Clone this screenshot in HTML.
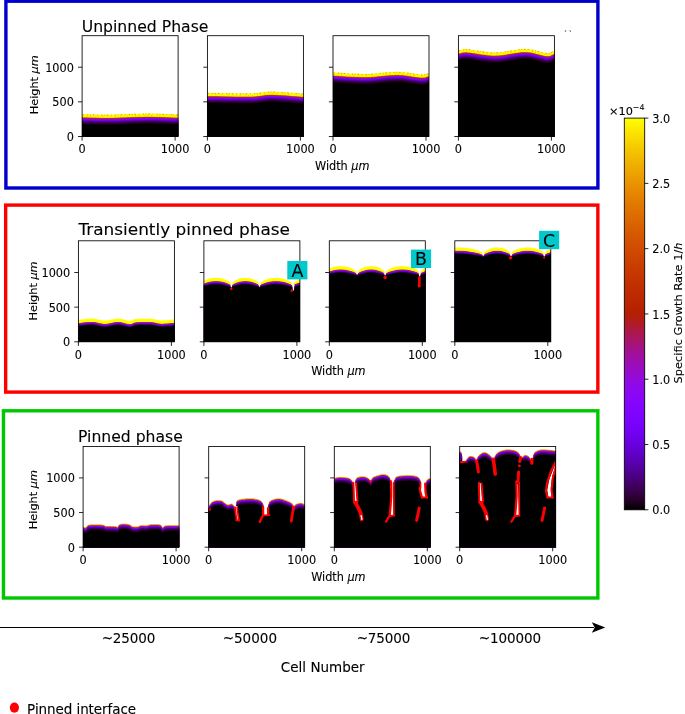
<!DOCTYPE html>
<html><head><meta charset="utf-8"><title>Growth phases</title>
<style>html,body{margin:0;padding:0;background:#fff}svg{display:block}text{stroke:#000;stroke-width:0.1px}</style></head>
<body>
<svg width="685" height="714" viewBox="0 0 685 714"><rect width="685" height="714" fill="#fff"/><defs><path id="f1" d="M76.1 114.4L76.4 114.4L76.7 114.4L76.9 114.4L77.3 114.4L78.0 114.4L78.9 114.4L80.3 114.5L82.1 114.5L84.5 114.6L87.4 114.6L90.6 114.7L94.2 114.8L98.0 114.9L102.0 115.0L106.1 115.0L110.1 115.0L114.2 114.9L118.6 114.8L123.2 114.6L127.8 114.4L132.5 114.2L137.2 114.1L141.7 114.0L146.1 113.9L150.5 113.9L155.0 114.0L159.5 114.1L164.0 114.3L168.2 114.4L172.0 114.6L175.4 114.7L178.1 114.8L180.1 114.9L181.6 114.9L182.5 114.9L183.1 114.9L183.4 114.9L183.6 114.9L183.8 114.9L184.1 114.9L184.1 140.5L76.1 140.5Z"/><clipPath id="a1"><rect x="82.10" y="35.70" width="96.00" height="100.80"/></clipPath><path id="f2" d="M201.4 93.2L201.6 93.2L201.6 93.2L201.5 93.2L201.7 93.2L202.1 93.2L203.1 93.2L204.8 93.2L207.4 93.2L211.2 93.3L216.3 93.3L222.2 93.5L228.5 93.6L235.0 93.7L241.2 93.7L246.8 93.7L251.4 93.7L255.0 93.6L257.8 93.3L260.1 93.0L262.1 92.7L264.1 92.4L266.1 92.1L268.5 92.0L271.4 91.9L275.0 92.0L279.2 92.2L283.7 92.5L288.3 92.8L292.8 93.2L296.9 93.5L300.6 93.8L303.4 94.0L305.4 94.1L306.9 94.2L307.8 94.2L308.4 94.2L308.7 94.2L308.9 94.2L309.1 94.2L309.4 94.2L309.4 140.5L201.4 140.5Z"/><clipPath id="a2"><rect x="207.40" y="35.70" width="96.00" height="100.80"/></clipPath><path id="f3" d="M327.0 72.5L327.3 72.5L327.4 72.5L327.6 72.5L327.9 72.5L328.5 72.5L329.5 72.5L330.9 72.6L333.0 72.7L335.8 72.9L339.4 73.1L343.5 73.4L347.9 73.7L352.6 73.9L357.3 74.1L361.8 74.3L366.0 74.3L370.0 74.2L374.1 73.9L378.1 73.5L382.1 73.1L386.0 72.7L389.8 72.4L393.5 72.2L397.0 72.1L400.4 72.2L403.9 72.5L407.2 72.9L410.4 73.4L413.5 73.9L416.3 74.3L418.8 74.6L421.0 74.8L422.8 74.8L424.2 74.7L425.3 74.6L426.1 74.3L426.8 74.1L427.5 73.8L428.2 73.6L429.0 73.4L429.9 73.3L430.8 73.1L431.7 73.0L432.5 72.9L433.3 72.7L434.0 72.7L434.6 72.6L435.0 72.5L435.0 140.5L327.0 140.5Z"/><clipPath id="a3"><rect x="333.00" y="35.70" width="96.00" height="100.80"/></clipPath><path id="f4" d="M452.4 51.8L452.8 51.7L453.4 51.6L454.1 51.5L454.8 51.4L455.7 51.2L456.5 51.1L457.5 50.9L458.4 50.8L459.3 50.6L460.0 50.4L460.7 50.2L461.5 49.9L462.5 49.7L463.7 49.6L465.3 49.5L467.4 49.6L470.0 49.8L473.0 50.2L476.4 50.8L480.1 51.4L483.9 51.9L487.8 52.4L491.7 52.7L495.4 52.8L499.1 52.6L503.0 52.2L506.9 51.6L510.8 50.9L514.7 50.3L518.5 49.7L522.1 49.3L525.4 49.2L528.5 49.4L531.6 49.8L534.5 50.5L537.3 51.2L539.9 51.9L542.3 52.5L544.5 53.0L546.4 53.3L548.0 53.3L549.4 53.2L550.4 52.9L551.3 52.5L552.1 52.1L552.8 51.7L553.6 51.3L554.4 51.0L555.3 50.8L556.2 50.5L557.1 50.3L557.9 50.1L558.7 49.9L559.4 49.8L560.0 49.6L560.4 49.5L560.4 140.5L452.4 140.5Z"/><clipPath id="a4"><rect x="458.40" y="35.70" width="96.00" height="100.80"/></clipPath><path id="f5" d="M72.4 320.3L72.8 320.3L73.3 320.2L73.9 320.2L74.5 320.2L75.3 320.1L76.2 320.1L77.2 320.0L78.4 319.9L79.8 319.8L81.4 319.6L83.2 319.4L85.1 319.2L87.1 319.0L89.0 318.9L90.9 318.8L92.6 318.8L94.2 318.9L95.8 319.2L97.3 319.5L98.8 319.9L100.3 320.2L101.8 320.5L103.3 320.7L104.9 320.8L106.5 320.7L108.2 320.5L109.8 320.2L111.5 319.8L113.2 319.4L114.8 319.1L116.4 318.9L118.0 318.8L119.6 318.9L121.1 319.1L122.7 319.5L124.3 319.9L125.7 320.3L127.1 320.6L128.4 320.9L129.6 321.0L130.6 321.0L131.4 320.8L132.1 320.6L132.7 320.3L133.2 320.0L133.9 319.7L134.6 319.5L135.4 319.3L136.4 319.2L137.4 319.1L138.6 319.0L139.8 319.0L141.0 318.9L142.1 318.9L143.3 318.9L144.4 318.9L145.4 318.9L146.5 318.9L147.4 318.9L148.4 318.9L149.4 318.9L150.4 318.9L151.4 319.0L152.4 319.1L153.4 319.2L154.4 319.4L155.5 319.7L156.5 319.9L157.6 320.2L158.7 320.4L159.9 320.5L161.2 320.6L162.7 320.6L164.3 320.5L166.1 320.4L167.9 320.3L169.6 320.1L171.3 320.0L172.9 319.8L174.2 319.7L175.3 319.6L176.4 319.5L177.3 319.5L178.1 319.4L178.8 319.3L179.4 319.3L180.0 319.2L180.4 319.2L180.4 345.8L72.4 345.8Z"/><clipPath id="a5"><rect x="78.40" y="240.80" width="96.00" height="101.00"/></clipPath><clipPath id="a6"><rect x="203.90" y="240.80" width="96.00" height="101.00"/></clipPath><clipPath id="a7"><rect x="329.30" y="240.80" width="96.00" height="101.00"/></clipPath><clipPath id="a8"><rect x="454.80" y="240.80" width="96.00" height="101.00"/></clipPath><path id="f9" d="M77.1 525.5L78.8 525.9L81.1 526.4L83.1 526.8L84.2 527.2L84.9 527.6L85.6 527.6L86.4 526.9L87.2 525.8L88.4 524.9L90.3 524.6L92.6 524.5L95.1 524.5L97.8 524.5L100.7 524.6L103.0 524.8L104.2 525.2L104.7 525.6L105.6 526.0L107.2 526.1L109.2 526.1L111.1 526.1L112.9 526.1L114.6 526.2L116.0 526.3L116.8 526.6L117.2 527.0L117.6 527.0L118.1 526.3L118.7 525.2L119.6 524.3L120.9 523.9L122.5 523.7L124.1 523.7L125.8 523.8L127.6 524.0L129.1 524.3L130.2 524.9L131.2 525.6L132.1 526.2L133.1 526.5L134.1 526.6L135.1 526.6L136.1 526.6L137.2 526.6L138.1 526.5L138.8 526.2L139.4 525.8L140.1 525.5L141.0 525.3L142.1 525.2L143.1 525.2L144.1 525.3L145.2 525.4L146.1 525.4L146.8 525.3L147.4 525.2L148.1 525.0L149.0 524.8L149.9 524.5L151.1 524.3L152.6 524.2L154.4 524.2L156.1 524.2L157.7 524.2L159.2 524.4L160.5 524.7L161.4 525.6L162.1 526.7L162.8 527.3L163.4 527.0L164.1 526.2L165.1 525.6L166.8 525.4L168.9 525.2L171.1 525.2L173.4 525.2L175.7 525.2L178.1 525.3L180.7 525.4L183.3 525.4L185.1 525.5L185.1 551.2L77.1 551.2Z"/><clipPath id="a9"><rect x="83.10" y="446.50" width="96.00" height="100.70"/></clipPath><path id="f10" d="M203.0 512.0L203.7 511.2L204.8 510.1L206.0 508.9L207.2 507.5L208.4 506.3L209.3 505.3L209.9 504.5L210.4 503.9L210.7 503.3L211.0 502.9L211.4 502.4L211.9 502.0L212.5 501.6L213.3 501.2L214.0 500.9L214.8 500.7L215.7 500.4L216.5 500.3L217.4 500.2L218.3 500.2L219.3 500.3L220.2 500.3L221.1 500.5L221.9 500.7L222.5 501.0L223.1 501.4L223.5 501.8L224.0 502.2L224.4 502.6L224.9 503.0L225.4 503.3L225.9 503.7L226.4 504.0L226.9 504.3L227.4 504.5L228.0 504.6L228.6 504.6L229.3 504.4L229.9 504.1L230.6 503.9L231.2 503.8L231.8 503.8L232.3 504.0L232.8 504.4L233.2 504.8L233.6 505.3L234.0 505.8L234.3 506.3L234.6 506.8L234.9 507.3L235.1 507.8L235.3 508.3L235.5 508.7L235.6 509.0L235.9 509.0L235.9 508.2L235.9 507.0L236.0 505.5L236.0 504.1L236.2 502.8L236.4 501.8L236.7 501.1L237.0 500.6L237.4 500.3L237.9 500.0L238.6 499.8L239.5 499.5L240.8 499.2L242.4 499.0L244.2 498.8L246.1 498.6L247.9 498.5L249.5 498.4L250.9 498.4L252.3 498.5L253.6 498.6L254.9 498.8L256.0 499.0L257.1 499.2L258.1 499.5L258.9 499.8L259.7 500.1L260.5 500.5L261.1 501.0L261.7 501.5L262.2 502.1L262.6 502.7L263.0 503.4L263.3 504.1L263.5 504.9L263.8 505.6L264.1 506.4L264.3 507.2L264.5 508.1L264.7 508.8L264.9 509.5L265.0 510.0L267.3 510.0L267.4 509.3L267.6 508.3L267.8 507.1L268.0 505.9L268.3 504.7L268.6 503.8L268.9 503.1L269.1 502.4L269.4 501.8L269.7 501.3L270.2 500.9L270.9 500.4L271.9 499.9L273.1 499.5L274.4 499.1L275.8 498.7L277.3 498.5L278.6 498.4L279.9 498.5L281.2 498.7L282.5 499.1L283.8 499.5L285.1 500.0L286.2 500.4L287.3 500.8L288.3 501.2L289.2 501.6L290.1 502.1L290.9 502.5L291.6 503.0L292.1 503.5L292.6 504.1L292.9 504.7L293.2 505.3L293.4 505.8L293.6 506.3L293.8 506.7L293.9 507.0L293.9 507.4L294.0 507.6L294.0 507.8L294.0 508.0L294.2 508.0L294.3 507.6L294.4 507.1L294.5 506.4L294.7 505.7L295.0 505.1L295.4 504.6L296.0 504.2L296.7 503.8L297.5 503.5L298.3 503.3L299.2 503.1L300.0 503.0L300.8 503.0L301.5 503.1L302.3 503.3L303.0 503.6L303.8 503.8L304.6 504.1L305.5 504.4L306.5 504.7L307.6 505.1L308.6 505.5L309.4 505.8L310.0 506.0L310.0 551.2L203.0 551.2Z"/><clipPath id="a10"><rect x="208.70" y="446.50" width="96.00" height="100.70"/></clipPath><path id="f11" d="M328.0 480.0L328.7 479.8L329.8 479.4L331.0 479.1L332.3 478.7L333.5 478.3L334.6 478.0L335.5 477.8L336.2 477.5L336.9 477.4L337.6 477.2L338.4 477.1L339.2 477.0L340.1 477.0L341.2 477.0L342.2 477.0L343.3 477.1L344.4 477.2L345.3 477.3L346.2 477.4L347.0 477.6L347.8 477.7L348.6 477.9L349.3 478.2L349.9 478.5L350.5 478.9L351.0 479.4L351.5 479.9L351.9 480.4L352.3 481.0L352.6 481.5L352.9 482.0L353.1 482.6L353.3 483.2L353.4 483.7L353.5 484.2L353.6 484.5L355.0 484.5L355.0 483.9L355.1 483.1L355.1 482.2L355.2 481.2L355.4 480.3L355.6 479.6L355.9 479.0L356.2 478.5L356.7 478.0L357.1 477.6L357.7 477.3L358.4 477.0L359.2 476.8L360.2 476.6L361.3 476.4L362.5 476.4L363.5 476.4L364.5 476.5L365.4 476.7L366.3 477.1L367.1 477.5L367.9 477.9L368.5 478.4L369.1 478.8L369.5 479.2L369.9 479.7L370.1 480.2L370.3 480.6L370.5 481.0L370.6 481.3L370.8 481.3L371.0 480.8L371.2 480.2L371.5 479.4L371.8 478.7L372.3 477.9L372.9 477.3L373.7 476.8L374.7 476.4L375.8 476.0L376.9 475.6L378.0 475.3L379.0 475.0L379.9 474.8L380.6 474.5L381.4 474.4L382.1 474.2L382.9 474.2L383.6 474.2L384.4 474.3L385.2 474.4L386.0 474.7L386.8 474.9L387.6 475.3L388.2 475.7L388.7 476.2L389.2 476.8L389.6 477.4L390.0 478.1L390.3 478.8L390.6 479.5L390.8 480.2L391.0 481.0L391.2 481.7L391.3 482.5L391.3 483.1L391.4 483.5L393.2 483.5L393.3 483.1L393.5 482.6L393.7 482.0L393.9 481.3L394.1 480.6L394.4 480.0L394.7 479.4L394.9 478.7L395.2 478.1L395.6 477.5L396.0 476.9L396.7 476.5L397.6 476.2L398.6 475.9L399.7 475.7L401.0 475.6L402.3 475.5L403.6 475.4L405.0 475.3L406.6 475.3L408.3 475.2L409.9 475.2L411.5 475.3L412.8 475.4L413.9 475.6L415.0 475.8L415.9 476.0L416.7 476.3L417.4 476.6L418.1 477.0L418.7 477.4L419.1 477.9L419.5 478.5L419.8 479.1L420.1 479.7L420.4 480.3L420.7 481.0L420.9 481.8L421.0 482.6L421.2 483.4L421.3 484.0L421.4 484.5L425.4 484.5L425.4 484.3L425.5 484.0L425.5 483.6L425.6 483.2L425.7 482.8L425.8 482.4L426.0 482.0L426.2 481.5L426.4 481.0L426.6 480.5L426.9 480.0L427.3 479.6L427.7 479.3L428.1 479.0L428.5 478.8L429.0 478.5L429.7 478.3L430.4 478.0L431.4 477.7L432.6 477.3L433.9 476.9L435.2 476.5L436.2 476.2L437.0 476.0L437.0 551.2L328.0 551.2Z"/><clipPath id="a11"><rect x="334.30" y="446.50" width="96.00" height="100.70"/></clipPath><path id="f12" d="M452.0 449.0L452.9 449.3L454.2 449.6L455.8 450.1L457.4 450.5L458.8 450.9L459.8 451.3L460.5 451.6L460.9 451.8L461.2 452.0L461.3 452.2L461.4 452.5L461.6 452.8L461.8 453.2L461.9 453.7L462.0 454.3L462.1 454.8L462.1 455.4L462.1 456.0L462.1 456.6L462.0 457.2L461.8 457.8L461.7 458.4L461.5 459.0L461.3 459.5L461.1 460.0L460.8 460.4L460.5 460.9L460.2 461.2L460.0 461.6L459.8 461.8L459.8 462.4L466.0 461.8L466.0 460.3L466.3 459.9L466.6 459.3L467.1 458.7L467.6 458.0L468.0 457.4L468.5 456.9L468.9 456.6L469.4 456.3L469.8 456.2L470.3 456.1L470.7 456.0L471.2 456.0L471.7 456.1L472.2 456.2L472.8 456.3L473.3 456.6L473.8 456.8L474.2 457.1L474.6 457.4L475.0 457.9L475.3 458.3L475.6 458.8L475.9 459.2L476.1 459.6L476.3 460.0L476.4 460.3L476.5 460.7L476.5 461.0L476.6 461.3L476.6 461.5L476.7 461.5L476.7 461.2L476.7 460.7L476.7 460.1L476.7 459.5L476.8 458.9L476.9 458.4L477.1 457.9L477.4 457.4L477.7 456.9L478.0 456.4L478.4 455.9L478.8 455.4L479.2 454.9L479.7 454.5L480.3 454.1L480.8 453.7L481.3 453.3L481.8 453.0L482.3 452.7L482.7 452.5L483.1 452.4L483.6 452.3L484.0 452.2L484.5 452.2L485.0 452.3L485.6 452.4L486.2 452.6L486.8 452.9L487.3 453.2L487.9 453.5L488.4 453.9L489.0 454.3L489.5 454.7L490.0 455.2L490.5 455.7L490.9 456.1L491.3 456.5L491.6 457.0L491.9 457.4L492.2 457.8L492.4 458.2L492.6 458.6L492.7 459.0L492.8 459.3L492.9 459.7L492.9 460.0L493.0 460.3L493.0 460.5L493.2 460.5L493.3 460.2L493.4 459.9L493.5 459.5L493.6 459.0L493.8 458.5L494.0 458.0L494.3 457.4L494.6 456.7L494.9 456.0L495.3 455.2L495.7 454.5L496.2 453.9L496.7 453.4L497.3 452.8L497.9 452.4L498.6 451.9L499.3 451.6L500.0 451.2L500.7 450.9L501.5 450.6L502.3 450.4L503.1 450.2L503.9 450.0L504.6 449.9L505.2 449.8L505.7 449.7L506.2 449.6L506.7 449.5L507.3 449.5L508.0 449.5L508.8 449.5L509.8 449.6L510.8 449.7L511.8 449.8L512.7 449.9L513.6 450.1L514.4 450.3L515.1 450.5L515.7 450.7L516.3 451.0L516.9 451.3L517.4 451.6L517.9 452.0L518.3 452.4L518.7 452.9L519.1 453.4L519.4 453.8L519.7 454.3L520.0 454.8L520.2 455.2L520.4 455.7L520.5 456.1L520.7 456.5L520.8 456.9L520.9 457.2L520.9 457.6L521.0 457.9L521.0 458.1L521.0 458.3L521.0 458.5L521.2 458.5L521.3 458.5L521.3 458.4L521.5 458.4L521.6 458.3L521.7 458.2L521.9 458.0L522.1 457.7L522.3 457.3L522.6 456.9L522.9 456.5L523.2 456.1L523.5 455.8L523.8 455.6L524.2 455.4L524.5 455.2L524.9 455.1L525.3 455.0L525.7 455.0L526.1 455.1L526.6 455.2L527.1 455.4L527.5 455.6L528.0 455.8L528.4 456.1L528.8 456.4L529.1 456.8L529.5 457.2L529.8 457.6L530.1 458.0L530.3 458.4L530.5 458.8L530.7 459.2L530.9 459.6L531.0 460.0L531.1 460.3L531.2 460.5L531.6 460.5L531.7 460.3L531.8 459.9L532.0 459.6L532.2 459.1L532.4 458.6L532.6 458.0L532.8 457.3L533.0 456.4L533.2 455.5L533.5 454.6L533.8 453.8L534.1 453.1L534.5 452.6L534.9 452.1L535.4 451.7L535.9 451.4L536.5 451.1L537.1 450.8L537.7 450.5L538.4 450.2L539.2 450.0L539.9 449.8L540.8 449.6L541.7 449.5L542.7 449.5L543.8 449.5L545.0 449.5L546.2 449.6L547.4 449.7L548.5 449.8L549.6 449.9L550.7 450.0L551.8 450.1L552.8 450.2L553.7 450.3L554.6 450.4L555.3 450.5L555.9 450.5L556.4 450.6L556.9 450.7L557.4 450.7L558.0 450.8L558.7 450.9L559.4 451.0L560.2 451.2L560.9 451.3L561.6 451.4L562.0 451.5L562.0 551.2L452.0 551.2Z"/><clipPath id="a12"><rect x="459.70" y="446.50" width="96.00" height="100.70"/></clipPath><linearGradient id="cb" x1="0" y1="0" x2="0" y2="1"><stop offset="0.000" stop-color="#ffff00"/><stop offset="0.025" stop-color="#fcec00"/><stop offset="0.050" stop-color="#f9db00"/><stop offset="0.075" stop-color="#f5ca00"/><stop offset="0.100" stop-color="#f2ba00"/><stop offset="0.125" stop-color="#efab00"/><stop offset="0.150" stop-color="#eb9d00"/><stop offset="0.175" stop-color="#e88f00"/><stop offset="0.200" stop-color="#e48300"/><stop offset="0.225" stop-color="#e07700"/><stop offset="0.250" stop-color="#dd6c00"/><stop offset="0.275" stop-color="#d96100"/><stop offset="0.300" stop-color="#d55700"/><stop offset="0.325" stop-color="#d24e00"/><stop offset="0.350" stop-color="#ce4600"/><stop offset="0.375" stop-color="#ca3e00"/><stop offset="0.400" stop-color="#c63700"/><stop offset="0.425" stop-color="#c13000"/><stop offset="0.450" stop-color="#bd2a00"/><stop offset="0.475" stop-color="#b92500"/><stop offset="0.500" stop-color="#b42000"/><stop offset="0.525" stop-color="#b01b28"/><stop offset="0.550" stop-color="#ab174f"/><stop offset="0.575" stop-color="#a61474"/><stop offset="0.600" stop-color="#a11096"/><stop offset="0.625" stop-color="#9c0db4"/><stop offset="0.650" stop-color="#970bce"/><stop offset="0.675" stop-color="#9109e3"/><stop offset="0.700" stop-color="#8c07f3"/><stop offset="0.725" stop-color="#8605fc"/><stop offset="0.750" stop-color="#8004ff"/><stop offset="0.775" stop-color="#7903fc"/><stop offset="0.800" stop-color="#7202f3"/><stop offset="0.825" stop-color="#6b01e3"/><stop offset="0.850" stop-color="#6301ce"/><stop offset="0.875" stop-color="#5a00b4"/><stop offset="0.900" stop-color="#510096"/><stop offset="0.925" stop-color="#460074"/><stop offset="0.950" stop-color="#39004f"/><stop offset="0.975" stop-color="#280028"/><stop offset="1.000" stop-color="#000000"/></linearGradient></defs>
<rect x="5.9" y="1.2" width="592" height="186.8" fill="none" stroke="#0000cd" stroke-width="3.4"/>
<rect x="5.65" y="205.1" width="592.2" height="187" fill="none" stroke="#ff0000" stroke-width="3.4"/>
<rect x="3.45" y="410.8" width="594.4" height="187.2" fill="none" stroke="#00c800" stroke-width="3.4"/>
<g clip-path="url(#a1)">
<use href="#f1" transform="translate(0,-0.3)" fill="#ffff00"/>
<use href="#f1" transform="translate(0,2.7)" fill="#eb9d00"/>
<use href="#f1" transform="translate(0,3.0)" fill="#d55700"/>
<use href="#f1" transform="translate(0,3.3)" fill="#bd2a00"/>
<use href="#f1" transform="translate(0,3.7)" fill="#a5137b"/>
<use href="#f1" transform="translate(0,4.1)" fill="#8c07f3"/>
<use href="#f1" transform="translate(0,4.6)" fill="#8004ff"/>
<use href="#f1" transform="translate(0,5.1)" fill="#7202f3"/>
<use href="#f1" transform="translate(0,5.6)" fill="#6601d7"/>
<use href="#f1" transform="translate(0,6.1)" fill="#5800af"/>
<use href="#f1" transform="translate(0,6.7)" fill="#4c0089"/>
<use href="#f1" transform="translate(0,7.3)" fill="#3e005e"/>
<use href="#f1" transform="translate(0,7.9)" fill="#33003f"/>
<use href="#f1" transform="translate(0,8.6)" fill="#280028"/>
<use href="#f1" transform="translate(0,9.3)" fill="#1a0010"/>
<use href="#f1" transform="translate(0,9.9)" fill="#000000"/>
<use href="#f1" transform="translate(0,0.1)" fill="none" stroke="#dc5a14" stroke-width="0.9" stroke-dasharray="0.9 1.9 1.5 2.7 0.8 3.3 1.2 1.6" stroke-opacity="0.75"/>
<use href="#f1" transform="translate(0,1.6)" fill="none" stroke="#e8780a" stroke-width="0.8" stroke-dasharray="0.8 3.1 1.1 4.3 0.7 2.2" stroke-dashoffset="2" stroke-opacity="0.6"/>
</g>
<rect x="82.10" y="35.70" width="96.00" height="100.80" fill="none" stroke="#000" stroke-width="0.85"/>
<line x1="78.00" x2="82.10" y1="136.50" y2="136.50" stroke="#000" stroke-width="0.85"/>
<text transform="translate(73.90,141.05) scale(1,1.08)" font-size="11.3" text-anchor="end" font-family="DejaVu Sans, Liberation Sans, sans-serif">0</text>
<line x1="78.00" x2="82.10" y1="101.85" y2="101.85" stroke="#000" stroke-width="0.85"/>
<text transform="translate(73.90,106.40) scale(1,1.08)" font-size="11.3" text-anchor="end" font-family="DejaVu Sans, Liberation Sans, sans-serif">500</text>
<line x1="78.00" x2="82.10" y1="67.20" y2="67.20" stroke="#000" stroke-width="0.85"/>
<text transform="translate(73.90,71.75) scale(1,1.08)" font-size="11.3" text-anchor="end" font-family="DejaVu Sans, Liberation Sans, sans-serif">1000</text>
<line x1="82.10" x2="82.10" y1="136.50" y2="140.60" stroke="#000" stroke-width="0.85"/>
<text transform="translate(82.10,153.40) scale(1,1.08)" font-size="11.3" text-anchor="middle" font-family="DejaVu Sans, Liberation Sans, sans-serif">0</text>
<line x1="175.10" x2="175.10" y1="136.50" y2="140.60" stroke="#000" stroke-width="0.85"/>
<text transform="translate(175.10,153.40) scale(1,1.08)" font-size="11.3" text-anchor="middle" font-family="DejaVu Sans, Liberation Sans, sans-serif">1000</text>
<g clip-path="url(#a2)">
<use href="#f2" transform="translate(0,-0.3)" fill="#ffff00"/>
<use href="#f2" transform="translate(0,2.7)" fill="#eb9d00"/>
<use href="#f2" transform="translate(0,3.0)" fill="#d55700"/>
<use href="#f2" transform="translate(0,3.3)" fill="#bd2a00"/>
<use href="#f2" transform="translate(0,3.7)" fill="#a5137b"/>
<use href="#f2" transform="translate(0,4.1)" fill="#8c07f3"/>
<use href="#f2" transform="translate(0,4.6)" fill="#8004ff"/>
<use href="#f2" transform="translate(0,5.1)" fill="#7202f3"/>
<use href="#f2" transform="translate(0,5.6)" fill="#6601d7"/>
<use href="#f2" transform="translate(0,6.1)" fill="#5800af"/>
<use href="#f2" transform="translate(0,6.7)" fill="#4c0089"/>
<use href="#f2" transform="translate(0,7.3)" fill="#3e005e"/>
<use href="#f2" transform="translate(0,7.9)" fill="#33003f"/>
<use href="#f2" transform="translate(0,8.6)" fill="#280028"/>
<use href="#f2" transform="translate(0,9.3)" fill="#1a0010"/>
<use href="#f2" transform="translate(0,9.9)" fill="#000000"/>
<use href="#f2" transform="translate(0,0.1)" fill="none" stroke="#dc5a14" stroke-width="0.9" stroke-dasharray="0.9 1.9 1.5 2.7 0.8 3.3 1.2 1.6" stroke-opacity="0.75"/>
<use href="#f2" transform="translate(0,1.6)" fill="none" stroke="#e8780a" stroke-width="0.8" stroke-dasharray="0.8 3.1 1.1 4.3 0.7 2.2" stroke-dashoffset="2" stroke-opacity="0.6"/>
</g>
<rect x="207.40" y="35.70" width="96.00" height="100.80" fill="none" stroke="#000" stroke-width="0.85"/>
<line x1="203.30" x2="207.40" y1="136.50" y2="136.50" stroke="#000" stroke-width="0.85"/>
<line x1="203.30" x2="207.40" y1="101.85" y2="101.85" stroke="#000" stroke-width="0.85"/>
<line x1="203.30" x2="207.40" y1="67.20" y2="67.20" stroke="#000" stroke-width="0.85"/>
<line x1="207.40" x2="207.40" y1="136.50" y2="140.60" stroke="#000" stroke-width="0.85"/>
<text transform="translate(207.40,153.40) scale(1,1.08)" font-size="11.3" text-anchor="middle" font-family="DejaVu Sans, Liberation Sans, sans-serif">0</text>
<line x1="300.40" x2="300.40" y1="136.50" y2="140.60" stroke="#000" stroke-width="0.85"/>
<text transform="translate(300.40,153.40) scale(1,1.08)" font-size="11.3" text-anchor="middle" font-family="DejaVu Sans, Liberation Sans, sans-serif">1000</text>
<g clip-path="url(#a3)">
<use href="#f3" transform="translate(0,-0.3)" fill="#ffff00"/>
<use href="#f3" transform="translate(0,2.7)" fill="#eb9d00"/>
<use href="#f3" transform="translate(0,3.0)" fill="#d55700"/>
<use href="#f3" transform="translate(0,3.3)" fill="#bd2a00"/>
<use href="#f3" transform="translate(0,3.7)" fill="#a5137b"/>
<use href="#f3" transform="translate(0,4.1)" fill="#8c07f3"/>
<use href="#f3" transform="translate(0,4.6)" fill="#8004ff"/>
<use href="#f3" transform="translate(0,5.1)" fill="#7202f3"/>
<use href="#f3" transform="translate(0,5.6)" fill="#6601d7"/>
<use href="#f3" transform="translate(0,6.1)" fill="#5800af"/>
<use href="#f3" transform="translate(0,6.7)" fill="#4c0089"/>
<use href="#f3" transform="translate(0,7.3)" fill="#3e005e"/>
<use href="#f3" transform="translate(0,7.9)" fill="#33003f"/>
<use href="#f3" transform="translate(0,8.6)" fill="#280028"/>
<use href="#f3" transform="translate(0,9.3)" fill="#1a0010"/>
<use href="#f3" transform="translate(0,9.9)" fill="#000000"/>
<use href="#f3" transform="translate(0,0.1)" fill="none" stroke="#dc5a14" stroke-width="0.9" stroke-dasharray="0.9 1.9 1.5 2.7 0.8 3.3 1.2 1.6" stroke-opacity="0.75"/>
<use href="#f3" transform="translate(0,1.6)" fill="none" stroke="#e8780a" stroke-width="0.8" stroke-dasharray="0.8 3.1 1.1 4.3 0.7 2.2" stroke-dashoffset="2" stroke-opacity="0.6"/>
</g>
<rect x="333.00" y="35.70" width="96.00" height="100.80" fill="none" stroke="#000" stroke-width="0.85"/>
<line x1="328.90" x2="333.00" y1="136.50" y2="136.50" stroke="#000" stroke-width="0.85"/>
<line x1="328.90" x2="333.00" y1="101.85" y2="101.85" stroke="#000" stroke-width="0.85"/>
<line x1="328.90" x2="333.00" y1="67.20" y2="67.20" stroke="#000" stroke-width="0.85"/>
<line x1="333.00" x2="333.00" y1="136.50" y2="140.60" stroke="#000" stroke-width="0.85"/>
<text transform="translate(333.00,153.40) scale(1,1.08)" font-size="11.3" text-anchor="middle" font-family="DejaVu Sans, Liberation Sans, sans-serif">0</text>
<line x1="426.00" x2="426.00" y1="136.50" y2="140.60" stroke="#000" stroke-width="0.85"/>
<text transform="translate(426.00,153.40) scale(1,1.08)" font-size="11.3" text-anchor="middle" font-family="DejaVu Sans, Liberation Sans, sans-serif">1000</text>
<g clip-path="url(#a4)">
<use href="#f4" transform="translate(0,-0.3)" fill="#ffff00"/>
<use href="#f4" transform="translate(0,2.7)" fill="#eb9d00"/>
<use href="#f4" transform="translate(0,3.0)" fill="#d55700"/>
<use href="#f4" transform="translate(0,3.3)" fill="#bd2a00"/>
<use href="#f4" transform="translate(0,3.7)" fill="#a5137b"/>
<use href="#f4" transform="translate(0,4.1)" fill="#8c07f3"/>
<use href="#f4" transform="translate(0,4.6)" fill="#8004ff"/>
<use href="#f4" transform="translate(0,5.1)" fill="#7202f3"/>
<use href="#f4" transform="translate(0,5.6)" fill="#6601d7"/>
<use href="#f4" transform="translate(0,6.1)" fill="#5800af"/>
<use href="#f4" transform="translate(0,6.7)" fill="#4c0089"/>
<use href="#f4" transform="translate(0,7.3)" fill="#3e005e"/>
<use href="#f4" transform="translate(0,7.9)" fill="#33003f"/>
<use href="#f4" transform="translate(0,8.6)" fill="#280028"/>
<use href="#f4" transform="translate(0,9.3)" fill="#1a0010"/>
<use href="#f4" transform="translate(0,9.9)" fill="#000000"/>
<use href="#f4" transform="translate(0,0.1)" fill="none" stroke="#dc5a14" stroke-width="0.9" stroke-dasharray="0.9 1.9 1.5 2.7 0.8 3.3 1.2 1.6" stroke-opacity="0.75"/>
<use href="#f4" transform="translate(0,1.6)" fill="none" stroke="#e8780a" stroke-width="0.8" stroke-dasharray="0.8 3.1 1.1 4.3 0.7 2.2" stroke-dashoffset="2" stroke-opacity="0.6"/>
</g>
<rect x="458.40" y="35.70" width="96.00" height="100.80" fill="none" stroke="#000" stroke-width="0.85"/>
<line x1="454.30" x2="458.40" y1="136.50" y2="136.50" stroke="#000" stroke-width="0.85"/>
<line x1="454.30" x2="458.40" y1="101.85" y2="101.85" stroke="#000" stroke-width="0.85"/>
<line x1="454.30" x2="458.40" y1="67.20" y2="67.20" stroke="#000" stroke-width="0.85"/>
<line x1="458.40" x2="458.40" y1="136.50" y2="140.60" stroke="#000" stroke-width="0.85"/>
<text transform="translate(458.40,153.40) scale(1,1.08)" font-size="11.3" text-anchor="middle" font-family="DejaVu Sans, Liberation Sans, sans-serif">0</text>
<line x1="551.40" x2="551.40" y1="136.50" y2="140.60" stroke="#000" stroke-width="0.85"/>
<text transform="translate(551.40,153.40) scale(1,1.08)" font-size="11.3" text-anchor="middle" font-family="DejaVu Sans, Liberation Sans, sans-serif">1000</text>
<g clip-path="url(#a5)">
<use href="#f5" transform="translate(0,-0.2)" fill="#ffff00"/>
<use href="#f5" transform="translate(0,3.1)" fill="#d55700"/>
<use href="#f5" transform="translate(0,3.4)" fill="#ab174f"/>
<use href="#f5" transform="translate(0,3.7)" fill="#8c07f3"/>
<use href="#f5" transform="translate(0,4.3)" fill="#7803fa"/>
<use href="#f5" transform="translate(0,4.8)" fill="#5f01c4"/>
<use href="#f5" transform="translate(0,5.3)" fill="#48007b"/>
<use href="#f5" transform="translate(0,5.8)" fill="#2c0030"/>
<use href="#f5" transform="translate(0,6.2)" fill="#000000"/>
</g>
<rect x="78.40" y="240.80" width="96.00" height="101.00" fill="none" stroke="#000" stroke-width="0.85"/>
<line x1="74.30" x2="78.40" y1="341.80" y2="341.80" stroke="#000" stroke-width="0.85"/>
<text transform="translate(70.20,346.35) scale(1,1.08)" font-size="11.3" text-anchor="end" font-family="DejaVu Sans, Liberation Sans, sans-serif">0</text>
<line x1="74.30" x2="78.40" y1="307.15" y2="307.15" stroke="#000" stroke-width="0.85"/>
<text transform="translate(70.20,311.70) scale(1,1.08)" font-size="11.3" text-anchor="end" font-family="DejaVu Sans, Liberation Sans, sans-serif">500</text>
<line x1="74.30" x2="78.40" y1="272.50" y2="272.50" stroke="#000" stroke-width="0.85"/>
<text transform="translate(70.20,277.05) scale(1,1.08)" font-size="11.3" text-anchor="end" font-family="DejaVu Sans, Liberation Sans, sans-serif">1000</text>
<line x1="78.40" x2="78.40" y1="341.80" y2="345.90" stroke="#000" stroke-width="0.85"/>
<text transform="translate(78.40,358.70) scale(1,1.08)" font-size="11.3" text-anchor="middle" font-family="DejaVu Sans, Liberation Sans, sans-serif">0</text>
<line x1="171.40" x2="171.40" y1="341.80" y2="345.90" stroke="#000" stroke-width="0.85"/>
<text transform="translate(171.40,358.70) scale(1,1.08)" font-size="11.3" text-anchor="middle" font-family="DejaVu Sans, Liberation Sans, sans-serif">1000</text>
<g clip-path="url(#a6)">
<path d="M200.6 285.3L200.8 284.5L201.2 283.6L202.0 282.6L203.0 281.6L204.4 280.7L205.9 279.9L207.7 279.2L209.6 278.6L211.7 278.1L213.8 277.9L216.0 277.8L218.2 277.9L220.3 278.1L222.4 278.6L224.3 279.2L226.1 279.9L227.6 280.7L229.0 281.6L230.0 282.6L230.8 283.6L231.2 284.5L231.4 285.3L231.4 285.3L231.5 284.5L232.0 283.6L232.7 282.6L233.6 281.6L234.8 280.7L236.2 279.9L237.9 279.2L239.6 278.6L241.5 278.1L243.5 277.9L245.4 277.8L247.4 277.9L249.4 278.1L251.3 278.6L253.0 279.2L254.7 279.9L256.1 280.7L257.3 281.6L258.2 282.6L258.9 283.6L259.4 284.5L259.5 285.3L259.5 285.3L259.7 284.5L260.2 283.6L261.0 282.6L262.1 281.6L263.6 280.7L265.2 279.9L267.1 279.2L269.2 278.6L271.4 278.1L273.7 277.9L276.1 277.8L278.5 277.9L280.8 278.1L283.0 278.6L285.1 279.2L287.0 279.9L288.6 280.7L290.1 281.6L291.2 282.6L292.0 283.6L292.5 284.5L292.7 285.3L292.7 285.3L292.9 284.5L293.4 283.6L294.2 282.6L295.3 281.6L296.8 280.7L298.4 279.9L300.3 279.2L302.4 278.6L304.6 278.1L306.9 277.9L309.3 277.8L311.7 277.9L314.0 278.1L316.2 278.6L318.3 279.2L320.2 279.9L321.8 280.7L323.3 281.6L324.4 282.6L325.2 283.6L325.7 284.5L325.9 285.3L325.9 345.8L200.6 345.8Z" fill="#ffff00"/>
<path d="M200.6 286.9L200.8 286.2L201.2 285.4L202.0 284.7L203.0 284.1L204.4 283.4L205.9 282.9L207.7 282.3L209.6 281.8L211.7 281.4L213.8 281.2L216.0 281.1L218.2 281.2L220.3 281.4L222.4 281.8L224.3 282.3L226.1 282.9L227.6 283.4L229.0 284.1L230.0 284.7L230.8 285.4L231.2 286.2L231.4 286.9L231.4 286.9L231.5 286.2L232.0 285.4L232.7 284.7L233.6 284.1L234.8 283.4L236.2 282.9L237.9 282.3L239.6 281.8L241.5 281.4L243.5 281.2L245.4 281.1L247.4 281.2L249.4 281.4L251.3 281.8L253.0 282.3L254.7 282.9L256.1 283.4L257.3 284.1L258.2 284.7L258.9 285.4L259.4 286.2L259.5 286.9L259.5 286.9L259.7 286.2L260.2 285.4L261.0 284.7L262.1 284.1L263.6 283.4L265.2 282.9L267.1 282.3L269.2 281.8L271.4 281.4L273.7 281.2L276.1 281.1L278.5 281.2L280.8 281.4L283.0 281.8L285.1 282.3L287.0 282.9L288.6 283.4L290.1 284.1L291.2 284.7L292.0 285.4L292.5 286.2L292.7 286.9L292.7 286.9L292.9 286.2L293.4 285.4L294.2 284.7L295.3 284.1L296.8 283.4L298.4 282.9L300.3 282.3L302.4 281.8L304.6 281.4L306.9 281.2L309.3 281.1L311.7 281.2L314.0 281.4L316.2 281.8L318.3 282.3L320.2 282.9L321.8 283.4L323.3 284.1L324.4 284.7L325.2 285.4L325.7 286.2L325.9 286.9L325.9 345.8L200.6 345.8Z" fill="#d55700"/>
<path d="M200.6 287.0L200.8 286.3L201.2 285.6L202.0 284.9L203.0 284.3L204.4 283.7L205.9 283.1L207.7 282.6L209.6 282.1L211.7 281.7L213.8 281.5L216.0 281.4L218.2 281.5L220.3 281.7L222.4 282.1L224.3 282.6L226.1 283.1L227.6 283.7L229.0 284.3L230.0 284.9L230.8 285.6L231.2 286.3L231.4 287.0L231.4 287.0L231.5 286.3L232.0 285.6L232.7 284.9L233.6 284.3L234.8 283.7L236.2 283.1L237.9 282.6L239.6 282.1L241.5 281.7L243.5 281.5L245.4 281.4L247.4 281.5L249.4 281.7L251.3 282.1L253.0 282.6L254.7 283.1L256.1 283.7L257.3 284.3L258.2 284.9L258.9 285.6L259.4 286.3L259.5 287.0L259.5 287.0L259.7 286.3L260.2 285.6L261.0 284.9L262.1 284.3L263.6 283.7L265.2 283.1L267.1 282.6L269.2 282.1L271.4 281.7L273.7 281.5L276.1 281.4L278.5 281.5L280.8 281.7L283.0 282.1L285.1 282.6L287.0 283.1L288.6 283.7L290.1 284.3L291.2 284.9L292.0 285.6L292.5 286.3L292.7 287.0L292.7 287.0L292.9 286.3L293.4 285.6L294.2 284.9L295.3 284.3L296.8 283.7L298.4 283.1L300.3 282.6L302.4 282.1L304.6 281.7L306.9 281.5L309.3 281.4L311.7 281.5L314.0 281.7L316.2 282.1L318.3 282.6L320.2 283.1L321.8 283.7L323.3 284.3L324.4 284.9L325.2 285.6L325.7 286.3L325.9 287.0L325.9 345.8L200.6 345.8Z" fill="#ab174f"/>
<path d="M200.6 287.2L200.8 286.5L201.2 285.8L202.0 285.1L203.0 284.5L204.4 283.9L205.9 283.4L207.7 282.9L209.6 282.4L211.7 282.0L213.8 281.8L216.0 281.7L218.2 281.8L220.3 282.0L222.4 282.4L224.3 282.9L226.1 283.4L227.6 283.9L229.0 284.5L230.0 285.1L230.8 285.8L231.2 286.5L231.4 287.2L231.4 287.2L231.5 286.5L232.0 285.8L232.7 285.1L233.6 284.5L234.8 283.9L236.2 283.4L237.9 282.9L239.6 282.4L241.5 282.0L243.5 281.8L245.4 281.7L247.4 281.8L249.4 282.0L251.3 282.4L253.0 282.9L254.7 283.4L256.1 283.9L257.3 284.5L258.2 285.1L258.9 285.8L259.4 286.5L259.5 287.2L259.5 287.2L259.7 286.5L260.2 285.8L261.0 285.1L262.1 284.5L263.6 283.9L265.2 283.4L267.1 282.9L269.2 282.4L271.4 282.0L273.7 281.8L276.1 281.7L278.5 281.8L280.8 282.0L283.0 282.4L285.1 282.9L287.0 283.4L288.6 283.9L290.1 284.5L291.2 285.1L292.0 285.8L292.5 286.5L292.7 287.2L292.7 287.2L292.9 286.5L293.4 285.8L294.2 285.1L295.3 284.5L296.8 283.9L298.4 283.4L300.3 282.9L302.4 282.4L304.6 282.0L306.9 281.8L309.3 281.7L311.7 281.8L314.0 282.0L316.2 282.4L318.3 282.9L320.2 283.4L321.8 283.9L323.3 284.5L324.4 285.1L325.2 285.8L325.7 286.5L325.9 287.2L325.9 345.8L200.6 345.8Z" fill="#8c07f3"/>
<path d="M200.6 287.5L200.8 286.8L201.2 286.1L202.0 285.5L203.0 285.0L204.4 284.4L205.9 283.9L207.7 283.5L209.6 283.0L211.7 282.6L213.8 282.4L216.0 282.3L218.2 282.4L220.3 282.6L222.4 283.0L224.3 283.5L226.1 283.9L227.6 284.4L229.0 285.0L230.0 285.5L230.8 286.1L231.2 286.8L231.4 287.5L231.4 287.5L231.5 286.8L232.0 286.1L232.7 285.5L233.6 285.0L234.8 284.4L236.2 283.9L237.9 283.5L239.6 283.0L241.5 282.6L243.5 282.4L245.4 282.3L247.4 282.4L249.4 282.6L251.3 283.0L253.0 283.5L254.7 283.9L256.1 284.4L257.3 285.0L258.2 285.5L258.9 286.1L259.4 286.8L259.5 287.5L259.5 287.5L259.7 286.8L260.2 286.1L261.0 285.5L262.1 285.0L263.6 284.4L265.2 283.9L267.1 283.5L269.2 283.0L271.4 282.6L273.7 282.4L276.1 282.3L278.5 282.4L280.8 282.6L283.0 283.0L285.1 283.5L287.0 283.9L288.6 284.4L290.1 285.0L291.2 285.5L292.0 286.1L292.5 286.8L292.7 287.5L292.7 287.5L292.9 286.8L293.4 286.1L294.2 285.5L295.3 285.0L296.8 284.4L298.4 283.9L300.3 283.5L302.4 283.0L304.6 282.6L306.9 282.4L309.3 282.3L311.7 282.4L314.0 282.6L316.2 283.0L318.3 283.5L320.2 283.9L321.8 284.4L323.3 285.0L324.4 285.5L325.2 286.1L325.7 286.8L325.9 287.5L325.9 345.8L200.6 345.8Z" fill="#7803fa"/>
<path d="M200.6 287.7L200.8 287.0L201.2 286.4L202.0 285.8L203.0 285.3L204.4 284.9L205.9 284.4L207.7 283.9L209.6 283.5L211.7 283.1L213.8 282.9L216.0 282.8L218.2 282.9L220.3 283.1L222.4 283.5L224.3 283.9L226.1 284.4L227.6 284.9L229.0 285.3L230.0 285.8L230.8 286.4L231.2 287.0L231.4 287.7L231.4 287.7L231.5 287.0L232.0 286.4L232.7 285.8L233.6 285.3L234.8 284.9L236.2 284.4L237.9 283.9L239.6 283.5L241.5 283.1L243.5 282.9L245.4 282.8L247.4 282.9L249.4 283.1L251.3 283.5L253.0 283.9L254.7 284.4L256.1 284.9L257.3 285.3L258.2 285.8L258.9 286.4L259.4 287.0L259.5 287.7L259.5 287.7L259.7 287.0L260.2 286.4L261.0 285.8L262.1 285.3L263.6 284.9L265.2 284.4L267.1 283.9L269.2 283.5L271.4 283.1L273.7 282.9L276.1 282.8L278.5 282.9L280.8 283.1L283.0 283.5L285.1 283.9L287.0 284.4L288.6 284.9L290.1 285.3L291.2 285.8L292.0 286.4L292.5 287.0L292.7 287.7L292.7 287.7L292.9 287.0L293.4 286.4L294.2 285.8L295.3 285.3L296.8 284.9L298.4 284.4L300.3 283.9L302.4 283.5L304.6 283.1L306.9 282.9L309.3 282.8L311.7 282.9L314.0 283.1L316.2 283.5L318.3 283.9L320.2 284.4L321.8 284.9L323.3 285.3L324.4 285.8L325.2 286.4L325.7 287.0L325.9 287.7L325.9 345.8L200.6 345.8Z" fill="#5f01c4"/>
<path d="M200.6 287.9L200.8 287.3L201.2 286.7L202.0 286.1L203.0 285.7L204.4 285.3L205.9 284.8L207.7 284.4L209.6 284.0L211.7 283.6L213.8 283.4L216.0 283.3L218.2 283.4L220.3 283.6L222.4 284.0L224.3 284.4L226.1 284.8L227.6 285.3L229.0 285.7L230.0 286.1L230.8 286.7L231.2 287.3L231.4 287.9L231.4 287.9L231.5 287.3L232.0 286.7L232.7 286.1L233.6 285.7L234.8 285.3L236.2 284.8L237.9 284.4L239.6 284.0L241.5 283.6L243.5 283.4L245.4 283.3L247.4 283.4L249.4 283.6L251.3 284.0L253.0 284.4L254.7 284.8L256.1 285.3L257.3 285.7L258.2 286.1L258.9 286.7L259.4 287.3L259.5 287.9L259.5 287.9L259.7 287.3L260.2 286.7L261.0 286.1L262.1 285.7L263.6 285.3L265.2 284.8L267.1 284.4L269.2 284.0L271.4 283.6L273.7 283.4L276.1 283.3L278.5 283.4L280.8 283.6L283.0 284.0L285.1 284.4L287.0 284.8L288.6 285.3L290.1 285.7L291.2 286.1L292.0 286.7L292.5 287.3L292.7 287.9L292.7 287.9L292.9 287.3L293.4 286.7L294.2 286.1L295.3 285.7L296.8 285.3L298.4 284.8L300.3 284.4L302.4 284.0L304.6 283.6L306.9 283.4L309.3 283.3L311.7 283.4L314.0 283.6L316.2 284.0L318.3 284.4L320.2 284.8L321.8 285.3L323.3 285.7L324.4 286.1L325.2 286.7L325.7 287.3L325.9 287.9L325.9 345.8L200.6 345.8Z" fill="#48007b"/>
<path d="M200.6 288.2L200.8 287.5L201.2 286.9L202.0 286.5L203.0 286.1L204.4 285.7L205.9 285.3L207.7 284.9L209.6 284.5L211.7 284.1L213.8 283.9L216.0 283.8L218.2 283.9L220.3 284.1L222.4 284.5L224.3 284.9L226.1 285.3L227.6 285.7L229.0 286.1L230.0 286.5L230.8 286.9L231.2 287.5L231.4 288.2L231.4 288.2L231.5 287.5L232.0 286.9L232.7 286.5L233.6 286.1L234.8 285.7L236.2 285.3L237.9 284.9L239.6 284.5L241.5 284.1L243.5 283.9L245.4 283.8L247.4 283.9L249.4 284.1L251.3 284.5L253.0 284.9L254.7 285.3L256.1 285.7L257.3 286.1L258.2 286.5L258.9 286.9L259.4 287.5L259.5 288.2L259.5 288.2L259.7 287.5L260.2 286.9L261.0 286.5L262.1 286.1L263.6 285.7L265.2 285.3L267.1 284.9L269.2 284.5L271.4 284.1L273.7 283.9L276.1 283.8L278.5 283.9L280.8 284.1L283.0 284.5L285.1 284.9L287.0 285.3L288.6 285.7L290.1 286.1L291.2 286.5L292.0 286.9L292.5 287.5L292.7 288.2L292.7 288.2L292.9 287.5L293.4 286.9L294.2 286.5L295.3 286.1L296.8 285.7L298.4 285.3L300.3 284.9L302.4 284.5L304.6 284.1L306.9 283.9L309.3 283.8L311.7 283.9L314.0 284.1L316.2 284.5L318.3 284.9L320.2 285.3L321.8 285.7L323.3 286.1L324.4 286.5L325.2 286.9L325.7 287.5L325.9 288.2L325.9 345.8L200.6 345.8Z" fill="#2c0030"/>
<path d="M200.6 288.4L200.8 287.7L201.2 287.2L202.0 286.7L203.0 286.4L204.4 286.0L205.9 285.7L207.7 285.3L209.6 284.9L211.7 284.5L213.8 284.3L216.0 284.2L218.2 284.3L220.3 284.5L222.4 284.9L224.3 285.3L226.1 285.7L227.6 286.0L229.0 286.4L230.0 286.7L230.8 287.2L231.2 287.7L231.4 288.4L231.4 288.4L231.5 287.7L232.0 287.2L232.7 286.7L233.6 286.4L234.8 286.0L236.2 285.7L237.9 285.3L239.6 284.9L241.5 284.5L243.5 284.3L245.4 284.2L247.4 284.3L249.4 284.5L251.3 284.9L253.0 285.3L254.7 285.7L256.1 286.0L257.3 286.4L258.2 286.7L258.9 287.2L259.4 287.7L259.5 288.4L259.5 288.4L259.7 287.7L260.2 287.2L261.0 286.7L262.1 286.4L263.6 286.0L265.2 285.7L267.1 285.3L269.2 284.9L271.4 284.5L273.7 284.3L276.1 284.2L278.5 284.3L280.8 284.5L283.0 284.9L285.1 285.3L287.0 285.7L288.6 286.0L290.1 286.4L291.2 286.7L292.0 287.2L292.5 287.7L292.7 288.4L292.7 288.4L292.9 287.7L293.4 287.2L294.2 286.7L295.3 286.4L296.8 286.0L298.4 285.7L300.3 285.3L302.4 284.9L304.6 284.5L306.9 284.3L309.3 284.2L311.7 284.3L314.0 284.5L316.2 284.9L318.3 285.3L320.2 285.7L321.8 286.0L323.3 286.4L324.4 286.7L325.2 287.2L325.7 287.7L325.9 288.4L325.9 345.8L200.6 345.8Z" fill="#000000"/>
<path d="M230.6 284.6L232.2 284.6L231.9 287.3L230.9 287.3Z" fill="#fff"/>
<path d="M258.7 284.6L260.3 284.6L260.0 286.6L259.0 286.6Z" fill="#fff"/>
<path d="M292.3 284.6L294.5 284.6L293.9 290.5L292.9 290.5Z" fill="#fff"/>
<circle cx="231.2" cy="288.8" r="1.3" fill="#f00"/>
<circle cx="291.7" cy="290.7" r="1.2" fill="#f00"/>
</g>
<rect x="203.90" y="240.80" width="96.00" height="101.00" fill="none" stroke="#000" stroke-width="0.85"/>
<line x1="199.80" x2="203.90" y1="341.80" y2="341.80" stroke="#000" stroke-width="0.85"/>
<line x1="199.80" x2="203.90" y1="307.15" y2="307.15" stroke="#000" stroke-width="0.85"/>
<line x1="199.80" x2="203.90" y1="272.50" y2="272.50" stroke="#000" stroke-width="0.85"/>
<line x1="203.90" x2="203.90" y1="341.80" y2="345.90" stroke="#000" stroke-width="0.85"/>
<text transform="translate(203.90,358.70) scale(1,1.08)" font-size="11.3" text-anchor="middle" font-family="DejaVu Sans, Liberation Sans, sans-serif">0</text>
<line x1="296.90" x2="296.90" y1="341.80" y2="345.90" stroke="#000" stroke-width="0.85"/>
<text transform="translate(296.90,358.70) scale(1,1.08)" font-size="11.3" text-anchor="middle" font-family="DejaVu Sans, Liberation Sans, sans-serif">1000</text>
<g clip-path="url(#a7)">
<path d="M324.3 273.6L324.5 272.8L325.0 271.9L325.8 270.9L326.9 270.0L328.3 269.1L330.0 268.2L331.9 267.5L333.9 267.0L336.1 266.5L338.4 266.3L340.8 266.2L343.1 266.3L345.4 266.5L347.6 267.0L349.6 267.5L351.5 268.2L353.2 269.1L354.6 270.0L355.7 270.9L356.5 271.9L357.0 272.8L357.2 273.6L357.2 273.6L357.3 272.8L357.8 271.9L358.5 270.9L359.4 270.0L360.6 269.1L362.0 268.2L363.6 267.5L365.4 267.0L367.2 266.5L369.2 266.3L371.1 266.2L373.1 266.3L375.1 266.5L376.9 267.0L378.7 267.5L380.3 268.2L381.7 269.1L382.9 270.0L383.8 270.9L384.5 271.9L385.0 272.8L385.1 273.6L385.1 273.6L385.3 272.8L385.8 271.9L386.7 270.9L387.8 270.0L389.3 269.1L391.1 268.2L393.0 267.5L395.2 267.0L397.5 266.5L399.9 266.3L402.4 266.2L404.9 266.3L407.3 266.5L409.6 267.0L411.8 267.5L413.7 268.2L415.5 269.1L417.0 270.0L418.1 270.9L419.0 271.9L419.5 272.8L419.7 273.6L419.7 273.6L419.9 272.8L420.3 271.9L421.1 270.9L422.2 270.0L423.6 269.1L425.2 268.2L427.0 267.5L428.9 267.0L431.0 266.5L433.3 266.3L435.5 266.2L437.7 266.3L440.0 266.5L442.1 267.0L444.0 267.5L445.8 268.2L447.4 269.1L448.8 270.0L449.9 270.9L450.7 271.9L451.1 272.8L451.3 273.6L451.3 345.8L324.3 345.8Z" fill="#ffff00"/>
<path d="M324.3 275.2L324.5 274.5L325.0 273.8L325.8 273.1L326.9 272.4L328.3 271.8L330.0 271.2L331.9 270.7L333.9 270.2L336.1 269.8L338.4 269.6L340.8 269.5L343.1 269.6L345.4 269.8L347.6 270.2L349.6 270.7L351.5 271.2L353.2 271.8L354.6 272.4L355.7 273.1L356.5 273.8L357.0 274.5L357.2 275.2L357.2 275.2L357.3 274.5L357.8 273.8L358.5 273.1L359.4 272.4L360.6 271.8L362.0 271.2L363.6 270.7L365.4 270.2L367.2 269.8L369.2 269.6L371.1 269.5L373.1 269.6L375.1 269.8L376.9 270.2L378.7 270.7L380.3 271.2L381.7 271.8L382.9 272.4L383.8 273.1L384.5 273.8L385.0 274.5L385.1 275.2L385.1 275.2L385.3 274.5L385.8 273.8L386.7 273.1L387.8 272.4L389.3 271.8L391.1 271.2L393.0 270.7L395.2 270.2L397.5 269.8L399.9 269.6L402.4 269.5L404.9 269.6L407.3 269.8L409.6 270.2L411.8 270.7L413.7 271.2L415.5 271.8L417.0 272.4L418.1 273.1L419.0 273.8L419.5 274.5L419.7 275.2L419.7 275.2L419.9 274.5L420.3 273.8L421.1 273.1L422.2 272.4L423.6 271.8L425.2 271.2L427.0 270.7L428.9 270.2L431.0 269.8L433.3 269.6L435.5 269.5L437.7 269.6L440.0 269.8L442.1 270.2L444.0 270.7L445.8 271.2L447.4 271.8L448.8 272.4L449.9 273.1L450.7 273.8L451.1 274.5L451.3 275.2L451.3 345.8L324.3 345.8Z" fill="#d55700"/>
<path d="M324.3 275.3L324.5 274.6L325.0 273.9L325.8 273.3L326.9 272.6L328.3 272.1L330.0 271.5L331.9 271.0L333.9 270.5L336.1 270.1L338.4 269.9L340.8 269.8L343.1 269.9L345.4 270.1L347.6 270.5L349.6 271.0L351.5 271.5L353.2 272.1L354.6 272.6L355.7 273.3L356.5 273.9L357.0 274.6L357.2 275.3L357.2 275.3L357.3 274.6L357.8 273.9L358.5 273.3L359.4 272.6L360.6 272.1L362.0 271.5L363.6 271.0L365.4 270.5L367.2 270.1L369.2 269.9L371.1 269.8L373.1 269.9L375.1 270.1L376.9 270.5L378.7 271.0L380.3 271.5L381.7 272.1L382.9 272.6L383.8 273.3L384.5 273.9L385.0 274.6L385.1 275.3L385.1 275.3L385.3 274.6L385.8 273.9L386.7 273.3L387.8 272.6L389.3 272.1L391.1 271.5L393.0 271.0L395.2 270.5L397.5 270.1L399.9 269.9L402.4 269.8L404.9 269.9L407.3 270.1L409.6 270.5L411.8 271.0L413.7 271.5L415.5 272.1L417.0 272.6L418.1 273.3L419.0 273.9L419.5 274.6L419.7 275.3L419.7 275.3L419.9 274.6L420.3 273.9L421.1 273.3L422.2 272.6L423.6 272.1L425.2 271.5L427.0 271.0L428.9 270.5L431.0 270.1L433.3 269.9L435.5 269.8L437.7 269.9L440.0 270.1L442.1 270.5L444.0 271.0L445.8 271.5L447.4 272.1L448.8 272.6L449.9 273.3L450.7 273.9L451.1 274.6L451.3 275.3L451.3 345.8L324.3 345.8Z" fill="#ab174f"/>
<path d="M324.3 275.5L324.5 274.8L325.0 274.1L325.8 273.4L326.9 272.9L328.3 272.3L330.0 271.8L331.9 271.3L333.9 270.8L336.1 270.4L338.4 270.2L340.8 270.1L343.1 270.2L345.4 270.4L347.6 270.8L349.6 271.3L351.5 271.8L353.2 272.3L354.6 272.9L355.7 273.4L356.5 274.1L357.0 274.8L357.2 275.5L357.2 275.5L357.3 274.8L357.8 274.1L358.5 273.4L359.4 272.9L360.6 272.3L362.0 271.8L363.6 271.3L365.4 270.8L367.2 270.4L369.2 270.2L371.1 270.1L373.1 270.2L375.1 270.4L376.9 270.8L378.7 271.3L380.3 271.8L381.7 272.3L382.9 272.9L383.8 273.4L384.5 274.1L385.0 274.8L385.1 275.5L385.1 275.5L385.3 274.8L385.8 274.1L386.7 273.4L387.8 272.9L389.3 272.3L391.1 271.8L393.0 271.3L395.2 270.8L397.5 270.4L399.9 270.2L402.4 270.1L404.9 270.2L407.3 270.4L409.6 270.8L411.8 271.3L413.7 271.8L415.5 272.3L417.0 272.9L418.1 273.4L419.0 274.1L419.5 274.8L419.7 275.5L419.7 275.5L419.9 274.8L420.3 274.1L421.1 273.4L422.2 272.9L423.6 272.3L425.2 271.8L427.0 271.3L428.9 270.8L431.0 270.4L433.3 270.2L435.5 270.1L437.7 270.2L440.0 270.4L442.1 270.8L444.0 271.3L445.8 271.8L447.4 272.3L448.8 272.9L449.9 273.4L450.7 274.1L451.1 274.8L451.3 275.5L451.3 345.8L324.3 345.8Z" fill="#8c07f3"/>
<path d="M324.3 275.8L324.5 275.1L325.0 274.4L325.8 273.8L326.9 273.3L328.3 272.8L330.0 272.3L331.9 271.8L333.9 271.4L336.1 271.0L338.4 270.8L340.8 270.7L343.1 270.8L345.4 271.0L347.6 271.4L349.6 271.8L351.5 272.3L353.2 272.8L354.6 273.3L355.7 273.8L356.5 274.4L357.0 275.1L357.2 275.8L357.2 275.8L357.3 275.1L357.8 274.4L358.5 273.8L359.4 273.3L360.6 272.8L362.0 272.3L363.6 271.8L365.4 271.4L367.2 271.0L369.2 270.8L371.1 270.7L373.1 270.8L375.1 271.0L376.9 271.4L378.7 271.8L380.3 272.3L381.7 272.8L382.9 273.3L383.8 273.8L384.5 274.4L385.0 275.1L385.1 275.8L385.1 275.8L385.3 275.1L385.8 274.4L386.7 273.8L387.8 273.3L389.3 272.8L391.1 272.3L393.0 271.8L395.2 271.4L397.5 271.0L399.9 270.8L402.4 270.7L404.9 270.8L407.3 271.0L409.6 271.4L411.8 271.8L413.7 272.3L415.5 272.8L417.0 273.3L418.1 273.8L419.0 274.4L419.5 275.1L419.7 275.8L419.7 275.8L419.9 275.1L420.3 274.4L421.1 273.8L422.2 273.3L423.6 272.8L425.2 272.3L427.0 271.8L428.9 271.4L431.0 271.0L433.3 270.8L435.5 270.7L437.7 270.8L440.0 271.0L442.1 271.4L444.0 271.8L445.8 272.3L447.4 272.8L448.8 273.3L449.9 273.8L450.7 274.4L451.1 275.1L451.3 275.8L451.3 345.8L324.3 345.8Z" fill="#7803fa"/>
<path d="M324.3 276.0L324.5 275.3L325.0 274.7L325.8 274.2L326.9 273.7L328.3 273.2L330.0 272.8L331.9 272.3L333.9 271.9L336.1 271.5L338.4 271.3L340.8 271.2L343.1 271.3L345.4 271.5L347.6 271.9L349.6 272.3L351.5 272.8L353.2 273.2L354.6 273.7L355.7 274.2L356.5 274.7L357.0 275.3L357.2 276.0L357.2 276.0L357.3 275.3L357.8 274.7L358.5 274.2L359.4 273.7L360.6 273.2L362.0 272.8L363.6 272.3L365.4 271.9L367.2 271.5L369.2 271.3L371.1 271.2L373.1 271.3L375.1 271.5L376.9 271.9L378.7 272.3L380.3 272.8L381.7 273.2L382.9 273.7L383.8 274.2L384.5 274.7L385.0 275.3L385.1 276.0L385.1 276.0L385.3 275.3L385.8 274.7L386.7 274.2L387.8 273.7L389.3 273.2L391.1 272.8L393.0 272.3L395.2 271.9L397.5 271.5L399.9 271.3L402.4 271.2L404.9 271.3L407.3 271.5L409.6 271.9L411.8 272.3L413.7 272.8L415.5 273.2L417.0 273.7L418.1 274.2L419.0 274.7L419.5 275.3L419.7 276.0L419.7 276.0L419.9 275.3L420.3 274.7L421.1 274.2L422.2 273.7L423.6 273.2L425.2 272.8L427.0 272.3L428.9 271.9L431.0 271.5L433.3 271.3L435.5 271.2L437.7 271.3L440.0 271.5L442.1 271.9L444.0 272.3L445.8 272.8L447.4 273.2L448.8 273.7L449.9 274.2L450.7 274.7L451.1 275.3L451.3 276.0L451.3 345.8L324.3 345.8Z" fill="#5f01c4"/>
<path d="M324.3 276.2L324.5 275.6L325.0 275.0L325.8 274.5L326.9 274.0L328.3 273.6L330.0 273.2L331.9 272.8L333.9 272.4L336.1 272.0L338.4 271.8L340.8 271.7L343.1 271.8L345.4 272.0L347.6 272.4L349.6 272.8L351.5 273.2L353.2 273.6L354.6 274.0L355.7 274.5L356.5 275.0L357.0 275.6L357.2 276.2L357.2 276.2L357.3 275.6L357.8 275.0L358.5 274.5L359.4 274.0L360.6 273.6L362.0 273.2L363.6 272.8L365.4 272.4L367.2 272.0L369.2 271.8L371.1 271.7L373.1 271.8L375.1 272.0L376.9 272.4L378.7 272.8L380.3 273.2L381.7 273.6L382.9 274.0L383.8 274.5L384.5 275.0L385.0 275.6L385.1 276.2L385.1 276.2L385.3 275.6L385.8 275.0L386.7 274.5L387.8 274.0L389.3 273.6L391.1 273.2L393.0 272.8L395.2 272.4L397.5 272.0L399.9 271.8L402.4 271.7L404.9 271.8L407.3 272.0L409.6 272.4L411.8 272.8L413.7 273.2L415.5 273.6L417.0 274.0L418.1 274.5L419.0 275.0L419.5 275.6L419.7 276.2L419.7 276.2L419.9 275.6L420.3 275.0L421.1 274.5L422.2 274.0L423.6 273.6L425.2 273.2L427.0 272.8L428.9 272.4L431.0 272.0L433.3 271.8L435.5 271.7L437.7 271.8L440.0 272.0L442.1 272.4L444.0 272.8L445.8 273.2L447.4 273.6L448.8 274.0L449.9 274.5L450.7 275.0L451.1 275.6L451.3 276.2L451.3 345.8L324.3 345.8Z" fill="#48007b"/>
<path d="M324.3 276.5L324.5 275.8L325.0 275.3L325.8 274.8L326.9 274.4L328.3 274.0L330.0 273.7L331.9 273.3L333.9 272.9L336.1 272.5L338.4 272.3L340.8 272.2L343.1 272.3L345.4 272.5L347.6 272.9L349.6 273.3L351.5 273.7L353.2 274.0L354.6 274.4L355.7 274.8L356.5 275.3L357.0 275.8L357.2 276.5L357.2 276.5L357.3 275.8L357.8 275.3L358.5 274.8L359.4 274.4L360.6 274.0L362.0 273.7L363.6 273.3L365.4 272.9L367.2 272.5L369.2 272.3L371.1 272.2L373.1 272.3L375.1 272.5L376.9 272.9L378.7 273.3L380.3 273.7L381.7 274.0L382.9 274.4L383.8 274.8L384.5 275.3L385.0 275.8L385.1 276.5L385.1 276.5L385.3 275.8L385.8 275.3L386.7 274.8L387.8 274.4L389.3 274.0L391.1 273.7L393.0 273.3L395.2 272.9L397.5 272.5L399.9 272.3L402.4 272.2L404.9 272.3L407.3 272.5L409.6 272.9L411.8 273.3L413.7 273.7L415.5 274.0L417.0 274.4L418.1 274.8L419.0 275.3L419.5 275.8L419.7 276.5L419.7 276.5L419.9 275.8L420.3 275.3L421.1 274.8L422.2 274.4L423.6 274.0L425.2 273.7L427.0 273.3L428.9 272.9L431.0 272.5L433.3 272.3L435.5 272.2L437.7 272.3L440.0 272.5L442.1 272.9L444.0 273.3L445.8 273.7L447.4 274.0L448.8 274.4L449.9 274.8L450.7 275.3L451.1 275.8L451.3 276.5L451.3 345.8L324.3 345.8Z" fill="#2c0030"/>
<path d="M324.3 276.7L324.5 276.0L325.0 275.5L325.8 275.1L326.9 274.7L328.3 274.4L330.0 274.0L331.9 273.7L333.9 273.3L336.1 272.9L338.4 272.7L340.8 272.6L343.1 272.7L345.4 272.9L347.6 273.3L349.6 273.7L351.5 274.0L353.2 274.4L354.6 274.7L355.7 275.1L356.5 275.5L357.0 276.0L357.2 276.7L357.2 276.7L357.3 276.0L357.8 275.5L358.5 275.1L359.4 274.7L360.6 274.4L362.0 274.0L363.6 273.7L365.4 273.3L367.2 272.9L369.2 272.7L371.1 272.6L373.1 272.7L375.1 272.9L376.9 273.3L378.7 273.7L380.3 274.0L381.7 274.4L382.9 274.7L383.8 275.1L384.5 275.5L385.0 276.0L385.1 276.7L385.1 276.7L385.3 276.0L385.8 275.5L386.7 275.1L387.8 274.7L389.3 274.4L391.1 274.0L393.0 273.7L395.2 273.3L397.5 272.9L399.9 272.7L402.4 272.6L404.9 272.7L407.3 272.9L409.6 273.3L411.8 273.7L413.7 274.0L415.5 274.4L417.0 274.7L418.1 275.1L419.0 275.5L419.5 276.0L419.7 276.7L419.7 276.7L419.9 276.0L420.3 275.5L421.1 275.1L422.2 274.7L423.6 274.4L425.2 274.0L427.0 273.7L428.9 273.3L431.0 272.9L433.3 272.7L435.5 272.6L437.7 272.7L440.0 272.9L442.1 273.3L444.0 273.7L445.8 274.0L447.4 274.4L448.8 274.7L449.9 275.1L450.7 275.5L451.1 276.0L451.3 276.7L451.3 345.8L324.3 345.8Z" fill="#000000"/>
<path d="M356.4 272.6L358.0 272.6L357.7 274.3L356.7 274.3Z" fill="#fff"/>
<path d="M384.3 272.6L385.9 272.6L385.6 275.2L384.6 275.2Z" fill="#fff"/>
<path d="M418.8 272.6L420.6 272.6L420.2 276.4L419.2 276.4Z" fill="#fff"/>
<circle cx="385.1" cy="277.5" r="1.7" fill="#f00"/>
<path d="M419.4 277.6L419.3 285.4" fill="none" stroke="#f00" stroke-width="2.6" stroke-linecap="round" stroke-linejoin="round"/>
<circle cx="419.2" cy="286.0" r="1.5" fill="#f00"/>
</g>
<rect x="329.30" y="240.80" width="96.00" height="101.00" fill="none" stroke="#000" stroke-width="0.85"/>
<line x1="325.20" x2="329.30" y1="341.80" y2="341.80" stroke="#000" stroke-width="0.85"/>
<line x1="325.20" x2="329.30" y1="307.15" y2="307.15" stroke="#000" stroke-width="0.85"/>
<line x1="325.20" x2="329.30" y1="272.50" y2="272.50" stroke="#000" stroke-width="0.85"/>
<line x1="329.30" x2="329.30" y1="341.80" y2="345.90" stroke="#000" stroke-width="0.85"/>
<text transform="translate(329.30,358.70) scale(1,1.08)" font-size="11.3" text-anchor="middle" font-family="DejaVu Sans, Liberation Sans, sans-serif">0</text>
<line x1="422.30" x2="422.30" y1="341.80" y2="345.90" stroke="#000" stroke-width="0.85"/>
<text transform="translate(422.30,358.70) scale(1,1.08)" font-size="11.3" text-anchor="middle" font-family="DejaVu Sans, Liberation Sans, sans-serif">1000</text>
<g clip-path="url(#a8)">
<path d="M432.8 254.7L433.1 253.9L433.8 253.0L435.1 252.1L436.8 251.1L439.0 250.2L441.5 249.4L444.4 248.7L447.6 248.2L451.0 247.7L454.5 247.5L458.1 247.4L461.7 247.5L465.2 247.7L468.6 248.2L471.8 248.7L474.7 249.4L477.2 250.2L479.4 251.1L481.1 252.1L482.4 253.0L483.1 253.9L483.4 254.7L483.4 254.7L483.5 253.9L484.0 253.0L484.6 252.1L485.6 251.1L486.8 250.2L488.2 249.4L489.7 248.7L491.5 248.2L493.3 247.7L495.2 247.5L497.2 247.4L499.2 247.5L501.1 247.7L502.9 248.2L504.7 248.7L506.2 249.4L507.6 250.2L508.8 251.1L509.8 252.1L510.4 253.0L510.9 253.9L511.0 254.7L511.0 254.7L511.2 253.9L511.7 253.0L512.5 252.1L513.6 251.1L515.1 250.2L516.7 249.4L518.6 248.7L520.7 248.2L523.0 247.7L525.3 247.5L527.6 247.4L530.0 247.5L532.3 247.7L534.6 248.2L536.7 248.7L538.6 249.4L540.2 250.2L541.7 251.1L542.8 252.1L543.6 253.0L544.1 253.9L544.3 254.7L544.3 254.7L544.5 253.9L545.0 253.0L545.8 252.1L546.9 251.1L548.3 250.2L549.9 249.4L551.8 248.7L553.8 248.2L556.0 247.7L558.2 247.5L560.5 247.4L562.9 247.5L565.1 247.7L567.3 248.2L569.3 248.7L571.2 249.4L572.8 250.2L574.2 251.1L575.3 252.1L576.1 253.0L576.6 253.9L576.8 254.7L576.8 345.8L432.8 345.8Z" fill="#ffff00"/>
<path d="M432.8 256.3L433.1 255.6L433.8 254.9L435.1 254.2L436.8 253.6L439.0 253.0L441.5 252.4L444.4 251.9L447.6 251.4L451.0 251.0L454.5 250.8L458.1 250.7L461.7 250.8L465.2 251.0L468.6 251.4L471.8 251.9L474.7 252.4L477.2 253.0L479.4 253.6L481.1 254.2L482.4 254.9L483.1 255.6L483.4 256.3L483.4 256.3L483.5 255.6L484.0 254.9L484.6 254.2L485.6 253.6L486.8 253.0L488.2 252.4L489.7 251.9L491.5 251.4L493.3 251.0L495.2 250.8L497.2 250.7L499.2 250.8L501.1 251.0L502.9 251.4L504.7 251.9L506.2 252.4L507.6 253.0L508.8 253.6L509.8 254.2L510.4 254.9L510.9 255.6L511.0 256.3L511.0 256.3L511.2 255.6L511.7 254.9L512.5 254.2L513.6 253.6L515.1 253.0L516.7 252.4L518.6 251.9L520.7 251.4L523.0 251.0L525.3 250.8L527.6 250.7L530.0 250.8L532.3 251.0L534.6 251.4L536.7 251.9L538.6 252.4L540.2 253.0L541.7 253.6L542.8 254.2L543.6 254.9L544.1 255.6L544.3 256.3L544.3 256.3L544.5 255.6L545.0 254.9L545.8 254.2L546.9 253.6L548.3 253.0L549.9 252.4L551.8 251.9L553.8 251.4L556.0 251.0L558.2 250.8L560.5 250.7L562.9 250.8L565.1 251.0L567.3 251.4L569.3 251.9L571.2 252.4L572.8 253.0L574.2 253.6L575.3 254.2L576.1 254.9L576.6 255.6L576.8 256.3L576.8 345.8L432.8 345.8Z" fill="#d55700"/>
<path d="M432.8 256.4L433.1 255.8L433.8 255.0L435.1 254.4L436.8 253.8L439.0 253.2L441.5 252.7L444.4 252.2L447.6 251.7L451.0 251.3L454.5 251.1L458.1 251.0L461.7 251.1L465.2 251.3L468.6 251.7L471.8 252.2L474.7 252.7L477.2 253.2L479.4 253.8L481.1 254.4L482.4 255.0L483.1 255.8L483.4 256.4L483.4 256.4L483.5 255.8L484.0 255.0L484.6 254.4L485.6 253.8L486.8 253.2L488.2 252.7L489.7 252.2L491.5 251.7L493.3 251.3L495.2 251.1L497.2 251.0L499.2 251.1L501.1 251.3L502.9 251.7L504.7 252.2L506.2 252.7L507.6 253.2L508.8 253.8L509.8 254.4L510.4 255.0L510.9 255.8L511.0 256.4L511.0 256.4L511.2 255.8L511.7 255.0L512.5 254.4L513.6 253.8L515.1 253.2L516.7 252.7L518.6 252.2L520.7 251.7L523.0 251.3L525.3 251.1L527.6 251.0L530.0 251.1L532.3 251.3L534.6 251.7L536.7 252.2L538.6 252.7L540.2 253.2L541.7 253.8L542.8 254.4L543.6 255.0L544.1 255.8L544.3 256.4L544.3 256.4L544.5 255.8L545.0 255.0L545.8 254.4L546.9 253.8L548.3 253.2L549.9 252.7L551.8 252.2L553.8 251.7L556.0 251.3L558.2 251.1L560.5 251.0L562.9 251.1L565.1 251.3L567.3 251.7L569.3 252.2L571.2 252.7L572.8 253.2L574.2 253.8L575.3 254.4L576.1 255.0L576.6 255.8L576.8 256.4L576.8 345.8L432.8 345.8Z" fill="#ab174f"/>
<path d="M432.8 256.6L433.1 255.9L433.8 255.2L435.1 254.6L436.8 254.0L439.0 253.5L441.5 252.9L444.4 252.4L447.6 252.0L451.0 251.6L454.5 251.4L458.1 251.3L461.7 251.4L465.2 251.6L468.6 252.0L471.8 252.4L474.7 252.9L477.2 253.5L479.4 254.0L481.1 254.6L482.4 255.2L483.1 255.9L483.4 256.6L483.4 256.6L483.5 255.9L484.0 255.2L484.6 254.6L485.6 254.0L486.8 253.5L488.2 252.9L489.7 252.4L491.5 252.0L493.3 251.6L495.2 251.4L497.2 251.3L499.2 251.4L501.1 251.6L502.9 252.0L504.7 252.4L506.2 252.9L507.6 253.5L508.8 254.0L509.8 254.6L510.4 255.2L510.9 255.9L511.0 256.6L511.0 256.6L511.2 255.9L511.7 255.2L512.5 254.6L513.6 254.0L515.1 253.5L516.7 252.9L518.6 252.4L520.7 252.0L523.0 251.6L525.3 251.4L527.6 251.3L530.0 251.4L532.3 251.6L534.6 252.0L536.7 252.4L538.6 252.9L540.2 253.5L541.7 254.0L542.8 254.6L543.6 255.2L544.1 255.9L544.3 256.6L544.3 256.6L544.5 255.9L545.0 255.2L545.8 254.6L546.9 254.0L548.3 253.5L549.9 252.9L551.8 252.4L553.8 252.0L556.0 251.6L558.2 251.4L560.5 251.3L562.9 251.4L565.1 251.6L567.3 252.0L569.3 252.4L571.2 252.9L572.8 253.5L574.2 254.0L575.3 254.6L576.1 255.2L576.6 255.9L576.8 256.6L576.8 345.8L432.8 345.8Z" fill="#8c07f3"/>
<path d="M432.8 256.9L433.1 256.2L433.8 255.5L435.1 255.0L436.8 254.5L439.0 254.0L441.5 253.5L444.4 253.0L447.6 252.6L451.0 252.2L454.5 252.0L458.1 251.9L461.7 252.0L465.2 252.2L468.6 252.6L471.8 253.0L474.7 253.5L477.2 254.0L479.4 254.5L481.1 255.0L482.4 255.5L483.1 256.2L483.4 256.9L483.4 256.9L483.5 256.2L484.0 255.5L484.6 255.0L485.6 254.5L486.8 254.0L488.2 253.5L489.7 253.0L491.5 252.6L493.3 252.2L495.2 252.0L497.2 251.9L499.2 252.0L501.1 252.2L502.9 252.6L504.7 253.0L506.2 253.5L507.6 254.0L508.8 254.5L509.8 255.0L510.4 255.5L510.9 256.2L511.0 256.9L511.0 256.9L511.2 256.2L511.7 255.5L512.5 255.0L513.6 254.5L515.1 254.0L516.7 253.5L518.6 253.0L520.7 252.6L523.0 252.2L525.3 252.0L527.6 251.9L530.0 252.0L532.3 252.2L534.6 252.6L536.7 253.0L538.6 253.5L540.2 254.0L541.7 254.5L542.8 255.0L543.6 255.5L544.1 256.2L544.3 256.9L544.3 256.9L544.5 256.2L545.0 255.5L545.8 255.0L546.9 254.5L548.3 254.0L549.9 253.5L551.8 253.0L553.8 252.6L556.0 252.2L558.2 252.0L560.5 251.9L562.9 252.0L565.1 252.2L567.3 252.6L569.3 253.0L571.2 253.5L572.8 254.0L574.2 254.5L575.3 255.0L576.1 255.5L576.6 256.2L576.8 256.9L576.8 345.8L432.8 345.8Z" fill="#7803fa"/>
<path d="M432.8 257.1L433.1 256.5L433.8 255.8L435.1 255.3L436.8 254.8L439.0 254.4L441.5 253.9L444.4 253.5L447.6 253.1L451.0 252.7L454.5 252.5L458.1 252.4L461.7 252.5L465.2 252.7L468.6 253.1L471.8 253.5L474.7 253.9L477.2 254.4L479.4 254.8L481.1 255.3L482.4 255.8L483.1 256.5L483.4 257.1L483.4 257.1L483.5 256.5L484.0 255.8L484.6 255.3L485.6 254.8L486.8 254.4L488.2 253.9L489.7 253.5L491.5 253.1L493.3 252.7L495.2 252.5L497.2 252.4L499.2 252.5L501.1 252.7L502.9 253.1L504.7 253.5L506.2 253.9L507.6 254.4L508.8 254.8L509.8 255.3L510.4 255.8L510.9 256.5L511.0 257.1L511.0 257.1L511.2 256.5L511.7 255.8L512.5 255.3L513.6 254.8L515.1 254.4L516.7 253.9L518.6 253.5L520.7 253.1L523.0 252.7L525.3 252.5L527.6 252.4L530.0 252.5L532.3 252.7L534.6 253.1L536.7 253.5L538.6 253.9L540.2 254.4L541.7 254.8L542.8 255.3L543.6 255.8L544.1 256.5L544.3 257.1L544.3 257.1L544.5 256.5L545.0 255.8L545.8 255.3L546.9 254.8L548.3 254.4L549.9 253.9L551.8 253.5L553.8 253.1L556.0 252.7L558.2 252.5L560.5 252.4L562.9 252.5L565.1 252.7L567.3 253.1L569.3 253.5L571.2 253.9L572.8 254.4L574.2 254.8L575.3 255.3L576.1 255.8L576.6 256.5L576.8 257.1L576.8 345.8L432.8 345.8Z" fill="#5f01c4"/>
<path d="M432.8 257.3L433.1 256.7L433.8 256.1L435.1 255.6L436.8 255.2L439.0 254.8L441.5 254.4L444.4 254.0L447.6 253.6L451.0 253.2L454.5 253.0L458.1 252.9L461.7 253.0L465.2 253.2L468.6 253.6L471.8 254.0L474.7 254.4L477.2 254.8L479.4 255.2L481.1 255.6L482.4 256.1L483.1 256.7L483.4 257.3L483.4 257.3L483.5 256.7L484.0 256.1L484.6 255.6L485.6 255.2L486.8 254.8L488.2 254.4L489.7 254.0L491.5 253.6L493.3 253.2L495.2 253.0L497.2 252.9L499.2 253.0L501.1 253.2L502.9 253.6L504.7 254.0L506.2 254.4L507.6 254.8L508.8 255.2L509.8 255.6L510.4 256.1L510.9 256.7L511.0 257.3L511.0 257.3L511.2 256.7L511.7 256.1L512.5 255.6L513.6 255.2L515.1 254.8L516.7 254.4L518.6 254.0L520.7 253.6L523.0 253.2L525.3 253.0L527.6 252.9L530.0 253.0L532.3 253.2L534.6 253.6L536.7 254.0L538.6 254.4L540.2 254.8L541.7 255.2L542.8 255.6L543.6 256.1L544.1 256.7L544.3 257.3L544.3 257.3L544.5 256.7L545.0 256.1L545.8 255.6L546.9 255.2L548.3 254.8L549.9 254.4L551.8 254.0L553.8 253.6L556.0 253.2L558.2 253.0L560.5 252.9L562.9 253.0L565.1 253.2L567.3 253.6L569.3 254.0L571.2 254.4L572.8 254.8L574.2 255.2L575.3 255.6L576.1 256.1L576.6 256.7L576.8 257.3L576.8 345.8L432.8 345.8Z" fill="#48007b"/>
<path d="M432.8 257.6L433.1 257.0L433.8 256.4L435.1 255.9L436.8 255.6L439.0 255.2L441.5 254.8L444.4 254.5L447.6 254.1L451.0 253.7L454.5 253.5L458.1 253.4L461.7 253.5L465.2 253.7L468.6 254.1L471.8 254.5L474.7 254.8L477.2 255.2L479.4 255.6L481.1 255.9L482.4 256.4L483.1 257.0L483.4 257.6L483.4 257.6L483.5 257.0L484.0 256.4L484.6 255.9L485.6 255.6L486.8 255.2L488.2 254.8L489.7 254.5L491.5 254.1L493.3 253.7L495.2 253.5L497.2 253.4L499.2 253.5L501.1 253.7L502.9 254.1L504.7 254.5L506.2 254.8L507.6 255.2L508.8 255.6L509.8 255.9L510.4 256.4L510.9 257.0L511.0 257.6L511.0 257.6L511.2 257.0L511.7 256.4L512.5 255.9L513.6 255.6L515.1 255.2L516.7 254.8L518.6 254.5L520.7 254.1L523.0 253.7L525.3 253.5L527.6 253.4L530.0 253.5L532.3 253.7L534.6 254.1L536.7 254.5L538.6 254.8L540.2 255.2L541.7 255.6L542.8 255.9L543.6 256.4L544.1 257.0L544.3 257.6L544.3 257.6L544.5 257.0L545.0 256.4L545.8 255.9L546.9 255.6L548.3 255.2L549.9 254.8L551.8 254.5L553.8 254.1L556.0 253.7L558.2 253.5L560.5 253.4L562.9 253.5L565.1 253.7L567.3 254.1L569.3 254.5L571.2 254.8L572.8 255.2L574.2 255.6L575.3 255.9L576.1 256.4L576.6 257.0L576.8 257.6L576.8 345.8L432.8 345.8Z" fill="#2c0030"/>
<path d="M432.8 257.8L433.1 257.2L433.8 256.6L435.1 256.2L436.8 255.9L439.0 255.5L441.5 255.2L444.4 254.8L447.6 254.5L451.0 254.1L454.5 253.9L458.1 253.8L461.7 253.9L465.2 254.1L468.6 254.5L471.8 254.8L474.7 255.2L477.2 255.5L479.4 255.9L481.1 256.2L482.4 256.6L483.1 257.2L483.4 257.8L483.4 257.8L483.5 257.2L484.0 256.6L484.6 256.2L485.6 255.9L486.8 255.5L488.2 255.2L489.7 254.8L491.5 254.5L493.3 254.1L495.2 253.9L497.2 253.8L499.2 253.9L501.1 254.1L502.9 254.5L504.7 254.8L506.2 255.2L507.6 255.5L508.8 255.9L509.8 256.2L510.4 256.6L510.9 257.2L511.0 257.8L511.0 257.8L511.2 257.2L511.7 256.6L512.5 256.2L513.6 255.9L515.1 255.5L516.7 255.2L518.6 254.8L520.7 254.5L523.0 254.1L525.3 253.9L527.6 253.8L530.0 253.9L532.3 254.1L534.6 254.5L536.7 254.8L538.6 255.2L540.2 255.5L541.7 255.9L542.8 256.2L543.6 256.6L544.1 257.2L544.3 257.8L544.3 257.8L544.5 257.2L545.0 256.6L545.8 256.2L546.9 255.9L548.3 255.5L549.9 255.2L551.8 254.8L553.8 254.5L556.0 254.1L558.2 253.9L560.5 253.8L562.9 253.9L565.1 254.1L567.3 254.5L569.3 254.8L571.2 255.2L572.8 255.5L574.2 255.9L575.3 256.2L576.1 256.6L576.6 257.2L576.8 257.8L576.8 345.8L432.8 345.8Z" fill="#000000"/>
<path d="M482.6 253.6L484.2 253.6L483.9 255.6L482.9 255.6Z" fill="#fff"/>
<path d="M510.2 253.6L511.8 253.6L511.5 256.0L510.5 256.0Z" fill="#fff"/>
<path d="M543.5 253.6L545.1 253.6L544.8 256.2L543.8 256.2Z" fill="#fff"/>
<circle cx="510.6" cy="257.9" r="1.7" fill="#f00"/>
<circle cx="544.1" cy="257.7" r="1.0" fill="#f00"/>
</g>
<rect x="454.80" y="240.80" width="96.00" height="101.00" fill="none" stroke="#000" stroke-width="0.85"/>
<line x1="450.70" x2="454.80" y1="341.80" y2="341.80" stroke="#000" stroke-width="0.85"/>
<line x1="450.70" x2="454.80" y1="307.15" y2="307.15" stroke="#000" stroke-width="0.85"/>
<line x1="450.70" x2="454.80" y1="272.50" y2="272.50" stroke="#000" stroke-width="0.85"/>
<line x1="454.80" x2="454.80" y1="341.80" y2="345.90" stroke="#000" stroke-width="0.85"/>
<text transform="translate(454.80,358.70) scale(1,1.08)" font-size="11.3" text-anchor="middle" font-family="DejaVu Sans, Liberation Sans, sans-serif">0</text>
<line x1="547.80" x2="547.80" y1="341.80" y2="345.90" stroke="#000" stroke-width="0.85"/>
<text transform="translate(547.80,358.70) scale(1,1.08)" font-size="11.3" text-anchor="middle" font-family="DejaVu Sans, Liberation Sans, sans-serif">1000</text>
<rect x="287.3" y="261.0" width="20.1" height="18.4" fill="#00c8cc"/>
<text x="297.35" y="276.75" font-size="17.4" text-anchor="middle" font-family="DejaVu Sans, Liberation Sans, sans-serif">A</text>
<rect x="411.0" y="249.6" width="20.1" height="18.4" fill="#00c8cc"/>
<text x="421.05" y="265.35" font-size="17.4" text-anchor="middle" font-family="DejaVu Sans, Liberation Sans, sans-serif">B</text>
<rect x="539.1" y="230.8" width="20.1" height="18.4" fill="#00c8cc"/>
<text x="549.15" y="246.55" font-size="17.4" text-anchor="middle" font-family="DejaVu Sans, Liberation Sans, sans-serif">C</text>
<g clip-path="url(#a9)">
<use href="#f9" fill="#e48300"/>
<use href="#f9" transform="translate(0,0.7)" fill="#c93d00"/>
<use href="#f9" transform="translate(0,1.1)" fill="#a5137b"/>
<use href="#f9" transform="translate(0,1.4)" fill="#8906f7"/>
<use href="#f9" transform="translate(0,1.9)" fill="#7d04fe"/>
<use href="#f9" transform="translate(0,2.3)" fill="#6c01e7"/>
<use href="#f9" transform="translate(0,2.7)" fill="#5c01ba"/>
<use href="#f9" transform="translate(0,3.1)" fill="#4c0089"/>
<use href="#f9" transform="translate(0,3.6)" fill="#3e005e"/>
<use href="#f9" transform="translate(0,4.2)" fill="#33003f"/>
<use href="#f9" transform="translate(0,4.9)" fill="#240020"/>
<use href="#f9" transform="translate(0,5.6)" fill="#000000"/>
<use href="#f9" transform="translate(0,0.2)" fill="none" stroke="#ffc800" stroke-width="0.9" stroke-dasharray="1.0 2.4 1.6 3.2 0.8 1.8" stroke-opacity="0.8"/>
</g>
<rect x="83.10" y="446.50" width="96.00" height="100.70" fill="none" stroke="#000" stroke-width="0.85"/>
<line x1="79.00" x2="83.10" y1="547.20" y2="547.20" stroke="#000" stroke-width="0.85"/>
<text transform="translate(74.90,551.75) scale(1,1.08)" font-size="11.3" text-anchor="end" font-family="DejaVu Sans, Liberation Sans, sans-serif">0</text>
<line x1="79.00" x2="83.10" y1="512.55" y2="512.55" stroke="#000" stroke-width="0.85"/>
<text transform="translate(74.90,517.10) scale(1,1.08)" font-size="11.3" text-anchor="end" font-family="DejaVu Sans, Liberation Sans, sans-serif">500</text>
<line x1="79.00" x2="83.10" y1="477.90" y2="477.90" stroke="#000" stroke-width="0.85"/>
<text transform="translate(74.90,482.45) scale(1,1.08)" font-size="11.3" text-anchor="end" font-family="DejaVu Sans, Liberation Sans, sans-serif">1000</text>
<line x1="83.10" x2="83.10" y1="547.20" y2="551.30" stroke="#000" stroke-width="0.85"/>
<text transform="translate(83.10,564.10) scale(1,1.08)" font-size="11.3" text-anchor="middle" font-family="DejaVu Sans, Liberation Sans, sans-serif">0</text>
<line x1="176.10" x2="176.10" y1="547.20" y2="551.30" stroke="#000" stroke-width="0.85"/>
<text transform="translate(176.10,564.10) scale(1,1.08)" font-size="11.3" text-anchor="middle" font-family="DejaVu Sans, Liberation Sans, sans-serif">1000</text>
<g clip-path="url(#a10)">
<use href="#f10" fill="#e48300"/>
<use href="#f10" transform="translate(0,0.7)" fill="#c93d00"/>
<use href="#f10" transform="translate(0,1.1)" fill="#a5137b"/>
<use href="#f10" transform="translate(0,1.4)" fill="#8906f7"/>
<use href="#f10" transform="translate(0,1.9)" fill="#7d04fe"/>
<use href="#f10" transform="translate(0,2.3)" fill="#6c01e7"/>
<use href="#f10" transform="translate(0,2.7)" fill="#5c01ba"/>
<use href="#f10" transform="translate(0,3.1)" fill="#4c0089"/>
<use href="#f10" transform="translate(0,3.6)" fill="#3e005e"/>
<use href="#f10" transform="translate(0,4.2)" fill="#33003f"/>
<use href="#f10" transform="translate(0,4.9)" fill="#240020"/>
<use href="#f10" transform="translate(0,5.6)" fill="#000000"/>
<use href="#f10" transform="translate(0,0.2)" fill="none" stroke="#ffc800" stroke-width="0.9" stroke-dasharray="1.0 2.4 1.6 3.2 0.8 1.8" stroke-opacity="0.8"/>
<path d="M235.2 506.0L237.4 506.0L238.4 520.0L236.6 520.0Z" fill="#fff"/>
<path d="M263.6 505.5L267.6 507.0L267.4 515.0L263.6 515.0Z" fill="#fff"/>
<path d="M292.4 507.0L293.4 507.0L292.6 513.0L292.0 513.0Z" fill="#fff"/>
<circle cx="209.6" cy="509.6" r="1.3" fill="#f00"/>
<path d="M235.0 507.0L235.9 514.5L236.6 519.5" fill="none" stroke="#f00" stroke-width="1.7" stroke-linecap="round" stroke-linejoin="round"/>
<path d="M237.2 507.0L238.0 514.5L238.9 520.0" fill="none" stroke="#f00" stroke-width="1.7" stroke-linecap="round" stroke-linejoin="round"/>
<path d="M236.2 520.2L239.2 520.4" fill="none" stroke="#f00" stroke-width="2.0" stroke-linecap="round" stroke-linejoin="round"/>
<path d="M263.1 507.0L263.1 515.0L259.8 522.0" fill="none" stroke="#f00" stroke-width="2.3" stroke-linecap="round" stroke-linejoin="round"/>
<path d="M268.1 508.2L268.1 515.0" fill="none" stroke="#f00" stroke-width="2.2" stroke-linecap="round" stroke-linejoin="round"/>
<path d="M263.0 515.3L269.4 515.2" fill="none" stroke="#f00" stroke-width="1.8" stroke-linecap="round" stroke-linejoin="round"/>
<path d="M293.6 507.0L292.4 514.0L291.3 521.0" fill="none" stroke="#f00" stroke-width="2.8" stroke-linecap="round" stroke-linejoin="round"/>
</g>
<rect x="208.70" y="446.50" width="96.00" height="100.70" fill="none" stroke="#000" stroke-width="0.85"/>
<line x1="204.60" x2="208.70" y1="547.20" y2="547.20" stroke="#000" stroke-width="0.85"/>
<line x1="204.60" x2="208.70" y1="512.55" y2="512.55" stroke="#000" stroke-width="0.85"/>
<line x1="204.60" x2="208.70" y1="477.90" y2="477.90" stroke="#000" stroke-width="0.85"/>
<line x1="208.70" x2="208.70" y1="547.20" y2="551.30" stroke="#000" stroke-width="0.85"/>
<text transform="translate(208.70,564.10) scale(1,1.08)" font-size="11.3" text-anchor="middle" font-family="DejaVu Sans, Liberation Sans, sans-serif">0</text>
<line x1="301.70" x2="301.70" y1="547.20" y2="551.30" stroke="#000" stroke-width="0.85"/>
<text transform="translate(301.70,564.10) scale(1,1.08)" font-size="11.3" text-anchor="middle" font-family="DejaVu Sans, Liberation Sans, sans-serif">1000</text>
<g clip-path="url(#a11)">
<use href="#f11" fill="#e48300"/>
<use href="#f11" transform="translate(0,0.7)" fill="#c93d00"/>
<use href="#f11" transform="translate(0,1.1)" fill="#a5137b"/>
<use href="#f11" transform="translate(0,1.4)" fill="#8906f7"/>
<use href="#f11" transform="translate(0,1.9)" fill="#7d04fe"/>
<use href="#f11" transform="translate(0,2.3)" fill="#6c01e7"/>
<use href="#f11" transform="translate(0,2.7)" fill="#5c01ba"/>
<use href="#f11" transform="translate(0,3.1)" fill="#4c0089"/>
<use href="#f11" transform="translate(0,3.6)" fill="#3e005e"/>
<use href="#f11" transform="translate(0,4.2)" fill="#33003f"/>
<use href="#f11" transform="translate(0,4.9)" fill="#240020"/>
<use href="#f11" transform="translate(0,5.6)" fill="#000000"/>
<use href="#f11" transform="translate(0,0.2)" fill="none" stroke="#ffc800" stroke-width="0.9" stroke-dasharray="1.0 2.4 1.6 3.2 0.8 1.8" stroke-opacity="0.8"/>
<path d="M354.0 482.6L355.6 483.4L357.0 501.6L354.4 501.8Z" fill="#fff"/>
<path d="M391.9 484.0L392.7 484.0L393.6 515.4L390.4 515.4Z" fill="#fff"/>
<path d="M421.2 482.6L425.2 482.6L426.4 497.0L422.3 497.0L420.6 490.0Z" fill="#fff"/>
<path d="M353.4 482.6L353.7 492.0L354.0 502.0" fill="none" stroke="#f00" stroke-width="1.9" stroke-linecap="round" stroke-linejoin="round"/>
<path d="M356.1 483.4L356.8 492.0L357.6 501.6" fill="none" stroke="#f00" stroke-width="1.9" stroke-linecap="round" stroke-linejoin="round"/>
<path d="M355.4 502.6L358.6 508.5L360.8 513.5L361.7 519.4" fill="none" stroke="#f00" stroke-width="3.7" stroke-linecap="round" stroke-linejoin="round"/>
<path d="M353.8 502.6L357.2 502.2" fill="none" stroke="#f00" stroke-width="1.8" stroke-linecap="round" stroke-linejoin="round"/>
<path d="M361.2 515.6L361.9 519.4" stroke="#fff" stroke-width="1.3" stroke-linecap="round" fill="none"/>
<path d="M391.0 481.3L391.3 495.7L390.6 506.0L389.7 515.4L386.0 521.6" fill="none" stroke="#f00" stroke-width="2.2" stroke-linecap="round" stroke-linejoin="round"/>
<path d="M393.8 482.6L393.9 500.0L394.0 515.4" fill="none" stroke="#f00" stroke-width="1.6" stroke-linecap="round" stroke-linejoin="round"/>
<path d="M389.8 516.0L394.2 515.6" fill="none" stroke="#f00" stroke-width="1.8" stroke-linecap="round" stroke-linejoin="round"/>
<path d="M419.2 508.0L418.0 514.0L416.6 520.4" fill="none" stroke="#f00" stroke-width="3.0" stroke-linecap="round" stroke-linejoin="round"/>
<circle cx="370.6" cy="481.6" r="1.4" fill="#f00"/>
<path d="M419.6 488.0L420.5 492.6L422.0 497.4" fill="none" stroke="#f00" stroke-width="2.2" stroke-linecap="round" stroke-linejoin="round"/>
<path d="M425.2 483.6L425.6 492.6L426.7 497.4" fill="none" stroke="#f00" stroke-width="2.3" stroke-linecap="round" stroke-linejoin="round"/>
<path d="M421.8 497.6L427.2 497.6" fill="none" stroke="#f00" stroke-width="2.0" stroke-linecap="round" stroke-linejoin="round"/>
<path d="M420.5 483.0L420.4 488.0" fill="none" stroke="#f00" stroke-width="1.8" stroke-linecap="round" stroke-linejoin="round"/>
</g>
<rect x="334.30" y="446.50" width="96.00" height="100.70" fill="none" stroke="#000" stroke-width="0.85"/>
<line x1="330.20" x2="334.30" y1="547.20" y2="547.20" stroke="#000" stroke-width="0.85"/>
<line x1="330.20" x2="334.30" y1="512.55" y2="512.55" stroke="#000" stroke-width="0.85"/>
<line x1="330.20" x2="334.30" y1="477.90" y2="477.90" stroke="#000" stroke-width="0.85"/>
<line x1="334.30" x2="334.30" y1="547.20" y2="551.30" stroke="#000" stroke-width="0.85"/>
<text transform="translate(334.30,564.10) scale(1,1.08)" font-size="11.3" text-anchor="middle" font-family="DejaVu Sans, Liberation Sans, sans-serif">0</text>
<line x1="427.30" x2="427.30" y1="547.20" y2="551.30" stroke="#000" stroke-width="0.85"/>
<text transform="translate(427.30,564.10) scale(1,1.08)" font-size="11.3" text-anchor="middle" font-family="DejaVu Sans, Liberation Sans, sans-serif">1000</text>
<g clip-path="url(#a12)">
<use href="#f12" fill="#e48300"/>
<use href="#f12" transform="translate(0,0.7)" fill="#c93d00"/>
<use href="#f12" transform="translate(0,1.1)" fill="#a5137b"/>
<use href="#f12" transform="translate(0,1.4)" fill="#8906f7"/>
<use href="#f12" transform="translate(0,1.9)" fill="#7d04fe"/>
<use href="#f12" transform="translate(0,2.3)" fill="#6c01e7"/>
<use href="#f12" transform="translate(0,2.7)" fill="#5c01ba"/>
<use href="#f12" transform="translate(0,3.1)" fill="#4c0089"/>
<use href="#f12" transform="translate(0,3.6)" fill="#3e005e"/>
<use href="#f12" transform="translate(0,4.2)" fill="#33003f"/>
<use href="#f12" transform="translate(0,4.9)" fill="#240020"/>
<use href="#f12" transform="translate(0,5.6)" fill="#000000"/>
<use href="#f12" transform="translate(0,0.2)" fill="none" stroke="#ffc800" stroke-width="0.9" stroke-dasharray="1.0 2.4 1.6 3.2 0.8 1.8" stroke-opacity="0.8"/>
<path d="M479.4 482.6L481.0 483.4L482.4 501.6L479.8 501.8Z" fill="#fff"/>
<path d="M517.3 484.0L518.1 484.0L519.0 515.4L515.8 515.4Z" fill="#fff"/>
<path d="M493.7 461.0L494.3 461.0L495.2 468.0L494.8 468.0Z" fill="#fff"/>
<path d="M555.4 464.0L549.4 479.0L547.2 490.0L548.3 496.8L551.7 496.8L550.8 488.0L552.2 476.0L556.2 465.4Z" fill="#fff"/>
<path d="M459 452.6L460.6 453.2L461.6 454.6L461.8 457L461.0 459.6L459.6 461.4L459 461.4Z" fill="#6a02dc"/>
<path d="M459 455L460.2 455.6L460.4 458.5L459 460.6Z" fill="#3a0060"/>
<path d="M459.0 462.4L466.6 461.8L467.6 470.0L459.0 470.0Z" fill="#000"/>
<path d="M475.4 461.0L479.6 461.0L480.5 470.0L476.0 470.0Z" fill="#000"/>
<path d="M491.6 460.0L495.6 460.0L497.0 470.0L492.6 470.0Z" fill="#000"/>
<path d="M518.6 458.5L523.4 458.5L523.4 468.0L518.0 468.0Z" fill="#000"/>
<path d="M529.8 460.5L533.8 460.5L533.8 468.0L529.8 468.0Z" fill="#000"/>
<path d="M478.8 482.6L479.1 492.0L479.4 502.0" fill="none" stroke="#f00" stroke-width="1.9" stroke-linecap="round" stroke-linejoin="round"/>
<path d="M481.5 483.4L482.2 492.0L483.0 501.6" fill="none" stroke="#f00" stroke-width="1.9" stroke-linecap="round" stroke-linejoin="round"/>
<path d="M480.8 502.6L484.0 508.5L486.2 513.5L487.1 519.4" fill="none" stroke="#f00" stroke-width="3.7" stroke-linecap="round" stroke-linejoin="round"/>
<path d="M479.2 502.6L482.6 502.2" fill="none" stroke="#f00" stroke-width="1.8" stroke-linecap="round" stroke-linejoin="round"/>
<path d="M486.6 515.6L487.3 519.4" stroke="#fff" stroke-width="1.3" stroke-linecap="round" fill="none"/>
<path d="M516.4 481.3L516.7 495.7L516.0 506.0L515.1 515.4L511.4 521.6" fill="none" stroke="#f00" stroke-width="2.2" stroke-linecap="round" stroke-linejoin="round"/>
<path d="M519.2 482.6L519.3 500.0L519.4 515.4" fill="none" stroke="#f00" stroke-width="1.6" stroke-linecap="round" stroke-linejoin="round"/>
<path d="M515.2 516.0L519.6 515.6" fill="none" stroke="#f00" stroke-width="1.8" stroke-linecap="round" stroke-linejoin="round"/>
<path d="M544.6 508.0L543.4 514.0L542.0 520.4" fill="none" stroke="#f00" stroke-width="3.0" stroke-linecap="round" stroke-linejoin="round"/>
<path d="M460.4 462.3L465.8 461.7" fill="none" stroke="#f00" stroke-width="1.9" stroke-linecap="round" stroke-linejoin="round"/>
<path d="M476.6 461.0L477.6 466.5L478.4 472.0" fill="none" stroke="#f00" stroke-width="3.0" stroke-linecap="round" stroke-linejoin="round"/>
<path d="M493.2 459.2L494.3 466.0L495.2 474.0" fill="none" stroke="#f00" stroke-width="3.6" stroke-linecap="round" stroke-linejoin="round"/>
<path d="M520.9 457.6L519.6 461.4" fill="none" stroke="#f00" stroke-width="3.1" stroke-linecap="round" stroke-linejoin="round"/>
<circle cx="519.4" cy="465.9" r="1.4" fill="#f00"/>
<path d="M531.8 459.4L531.8 463.2" fill="none" stroke="#f00" stroke-width="3.1" stroke-linecap="round" stroke-linejoin="round"/>
<path d="M518.6 472.0L518.1 481.5" fill="none" stroke="#f00" stroke-width="3.0" stroke-linecap="round" stroke-linejoin="round"/>
<path d="M555.2 462.4L550.6 472.0L546.8 484.0L546.0 491.0L547.4 497.2" fill="none" stroke="#f00" stroke-width="2.1" stroke-linecap="round" stroke-linejoin="round"/>
<path d="M556.4 464.6L552.8 478.0L551.5 490.0L552.6 497.4" fill="none" stroke="#f00" stroke-width="2.1" stroke-linecap="round" stroke-linejoin="round"/>
<path d="M547.2 497.6L553.0 497.6" fill="none" stroke="#f00" stroke-width="1.9" stroke-linecap="round" stroke-linejoin="round"/>
</g>
<rect x="459.70" y="446.50" width="96.00" height="100.70" fill="none" stroke="#000" stroke-width="0.85"/>
<line x1="455.60" x2="459.70" y1="547.20" y2="547.20" stroke="#000" stroke-width="0.85"/>
<line x1="455.60" x2="459.70" y1="512.55" y2="512.55" stroke="#000" stroke-width="0.85"/>
<line x1="455.60" x2="459.70" y1="477.90" y2="477.90" stroke="#000" stroke-width="0.85"/>
<line x1="459.70" x2="459.70" y1="547.20" y2="551.30" stroke="#000" stroke-width="0.85"/>
<text transform="translate(459.70,564.10) scale(1,1.08)" font-size="11.3" text-anchor="middle" font-family="DejaVu Sans, Liberation Sans, sans-serif">0</text>
<line x1="552.70" x2="552.70" y1="547.20" y2="551.30" stroke="#000" stroke-width="0.85"/>
<text transform="translate(552.70,564.10) scale(1,1.08)" font-size="11.3" text-anchor="middle" font-family="DejaVu Sans, Liberation Sans, sans-serif">1000</text>
<text x="81.70" y="32.1" font-size="15.6" textLength="126.81" lengthAdjust="spacingAndGlyphs" font-family="DejaVu Sans, Liberation Sans, sans-serif">Unpinned Phase</text>
<text x="78.40" y="235.0" font-size="15.6" textLength="211.56" lengthAdjust="spacingAndGlyphs" font-family="DejaVu Sans, Liberation Sans, sans-serif">Transiently pinned phase</text>
<text x="78.05" y="442.4" font-size="15.6" textLength="104.77" lengthAdjust="spacingAndGlyphs" font-family="DejaVu Sans, Liberation Sans, sans-serif">Pinned phase</text>
<text transform="translate(315.00,169.8) scale(1,1.08)" font-size="11.3" textLength="54.43" lengthAdjust="spacing" font-family="DejaVu Sans, Liberation Sans, sans-serif">Width <tspan font-style="italic">µm</tspan></text>
<text transform="translate(311.20,374.8) scale(1,1.08)" font-size="11.3" textLength="54.43" lengthAdjust="spacing" font-family="DejaVu Sans, Liberation Sans, sans-serif">Width <tspan font-style="italic">µm</tspan></text>
<text transform="translate(311.20,580.7) scale(1,1.08)" font-size="11.3" textLength="54.43" lengthAdjust="spacing" font-family="DejaVu Sans, Liberation Sans, sans-serif">Width <tspan font-style="italic">µm</tspan></text>
<text transform="translate(38.2,114.30) rotate(-90)" font-size="11.3" textLength="59.14" lengthAdjust="spacingAndGlyphs" font-family="DejaVu Sans, Liberation Sans, sans-serif">Height <tspan font-style="italic">µm</tspan></text>
<text transform="translate(37.0,320.50) rotate(-90)" font-size="11.3" textLength="59.14" lengthAdjust="spacingAndGlyphs" font-family="DejaVu Sans, Liberation Sans, sans-serif">Height <tspan font-style="italic">µm</tspan></text>
<text transform="translate(36.6,529.20) rotate(-90)" font-size="11.3" textLength="59.14" lengthAdjust="spacingAndGlyphs" font-family="DejaVu Sans, Liberation Sans, sans-serif">Height <tspan font-style="italic">µm</tspan></text>
<rect x="624.3" y="118.1" width="20.40" height="391.70" fill="url(#cb)" stroke="#000" stroke-width="0.85"/>
<line x1="644.7" x2="648.4000000000001" y1="509.80" y2="509.80" stroke="#000" stroke-width="0.85"/>
<text transform="translate(652.20,514.35) scale(1,1.08)" font-size="11.3" font-family="DejaVu Sans, Liberation Sans, sans-serif">0.0</text>
<line x1="644.7" x2="648.4000000000001" y1="444.52" y2="444.52" stroke="#000" stroke-width="0.85"/>
<text transform="translate(652.20,449.07) scale(1,1.08)" font-size="11.3" font-family="DejaVu Sans, Liberation Sans, sans-serif">0.5</text>
<line x1="644.7" x2="648.4000000000001" y1="379.23" y2="379.23" stroke="#000" stroke-width="0.85"/>
<text transform="translate(652.20,383.78) scale(1,1.08)" font-size="11.3" font-family="DejaVu Sans, Liberation Sans, sans-serif">1.0</text>
<line x1="644.7" x2="648.4000000000001" y1="313.95" y2="313.95" stroke="#000" stroke-width="0.85"/>
<text transform="translate(652.20,318.50) scale(1,1.08)" font-size="11.3" font-family="DejaVu Sans, Liberation Sans, sans-serif">1.5</text>
<line x1="644.7" x2="648.4000000000001" y1="248.67" y2="248.67" stroke="#000" stroke-width="0.85"/>
<text transform="translate(652.20,253.22) scale(1,1.08)" font-size="11.3" font-family="DejaVu Sans, Liberation Sans, sans-serif">2.0</text>
<line x1="644.7" x2="648.4000000000001" y1="183.38" y2="183.38" stroke="#000" stroke-width="0.85"/>
<text transform="translate(652.20,187.93) scale(1,1.08)" font-size="11.3" font-family="DejaVu Sans, Liberation Sans, sans-serif">2.5</text>
<line x1="644.7" x2="648.4000000000001" y1="118.10" y2="118.10" stroke="#000" stroke-width="0.85"/>
<text transform="translate(652.20,122.65) scale(1,1.08)" font-size="11.3" font-family="DejaVu Sans, Liberation Sans, sans-serif">3.0</text>
<text x="644.5" y="114.6" font-size="11.3" text-anchor="end" font-family="DejaVu Sans, Liberation Sans, sans-serif">×10<tspan font-size="7.9" dy="-4.5">−4</tspan></text>
<text transform="translate(682.1,383.40) rotate(-90)" font-size="11.3" textLength="140.90" lengthAdjust="spacing" font-family="DejaVu Sans, Liberation Sans, sans-serif">Specific Growth Rate 1/<tspan font-style="italic">h</tspan></text>
<line x1="0" x2="594" y1="627.45" y2="627.45" stroke="#000" stroke-width="1.05"/>
<path d="M605.3 627.5L591.8 622.3L594.8 627.5L591.8 632.7Z" fill="#000"/>
<text x="101.70" y="643.1" font-size="13.5" textLength="53.57" lengthAdjust="spacing" font-family="DejaVu Sans, Liberation Sans, sans-serif">~25000</text>
<text x="222.70" y="642.5" font-size="13.5" textLength="54.27" lengthAdjust="spacing" font-family="DejaVu Sans, Liberation Sans, sans-serif">~50000</text>
<text x="356.70" y="642.5" font-size="13.5" textLength="53.57" lengthAdjust="spacing" font-family="DejaVu Sans, Liberation Sans, sans-serif">~75000</text>
<text x="478.80" y="643.4" font-size="13.5" textLength="62.36" lengthAdjust="spacing" font-family="DejaVu Sans, Liberation Sans, sans-serif">~100000</text>
<text x="280.80" y="672.1" font-size="13.5" textLength="83.87" lengthAdjust="spacing" font-family="DejaVu Sans, Liberation Sans, sans-serif">Cell Number</text>
<ellipse cx="14.4" cy="707.6" rx="4.6" ry="5.1" fill="#f00"/>
<text x="27.10" y="714.0" font-size="13.5" textLength="108.99" lengthAdjust="spacing" font-family="DejaVu Sans, Liberation Sans, sans-serif">Pinned interface</text>
<path d="M565.8 30.2L565.2 31.8M569.8 30.2L570.6 31.8" stroke="#555" stroke-width="1" fill="none"/>
</svg>
</body></html>
